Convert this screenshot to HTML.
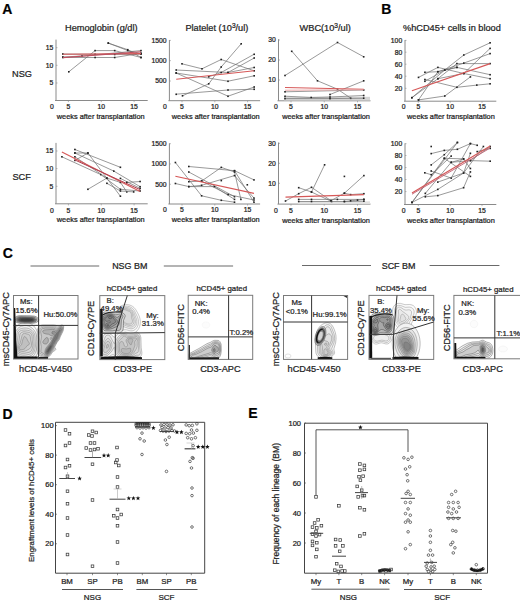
<!DOCTYPE html>
<html><head><meta charset="utf-8"><style>
html,body{margin:0;padding:0;background:#fff;}
svg{display:block;font-family:"Liberation Sans",sans-serif;}
text{stroke:#1e1e1e;stroke-width:0.24px;}
</style></head><body>
<svg width="520" height="602" viewBox="0 0 520 602">
<rect width="520" height="602" fill="#fff"/>
<text x="2.30" y="13.50" font-size="14.0" text-anchor="start" fill="#000" font-weight="bold" >A</text>
<text x="381.20" y="13.80" font-size="14.0" text-anchor="start" fill="#000" font-weight="bold" >B</text>
<text x="2.65" y="258.20" font-size="14.0" text-anchor="start" fill="#000" font-weight="bold" >C</text>
<text x="2.40" y="418.50" font-size="14.0" text-anchor="start" fill="#000" font-weight="bold" >D</text>
<text x="248.20" y="418.35" font-size="14.0" text-anchor="start" fill="#000" font-weight="bold" >E</text>
<text x="65.00" y="31.40" font-size="9.2" text-anchor="start" fill="#1e1e1e" font-weight="normal" >Hemoglobin (g/dl)</text>
<text x="185.40" y="31.40" font-size="9.2" text-anchor="start" fill="#1e1e1e" font-weight="normal" >Platelet (10<tspan font-size="6.6" dy="-3.4">3</tspan><tspan dy="3.4">/ul)</tspan></text>
<text x="299.60" y="31.40" font-size="9.2" text-anchor="start" fill="#1e1e1e" font-weight="normal" >WBC(10<tspan font-size="6.6" dy="-3.4">3</tspan><tspan dy="3.4">/ul)</tspan></text>
<text x="403.00" y="31.40" font-size="9.2" text-anchor="start" fill="#1e1e1e" font-weight="normal" >%hCD45+ cells in blood</text>
<text x="22.00" y="77.11" font-size="9.2" text-anchor="middle" fill="#1e1e1e" font-weight="normal" >NSG</text>
<text x="21.60" y="179.91" font-size="9.2" text-anchor="middle" fill="#1e1e1e" font-weight="normal" >SCF</text>
<line x1="56.00" y1="39.60" x2="56.00" y2="100.50" stroke="#8a8a8a" stroke-width="1"/>
<line x1="55.00" y1="100.50" x2="147.70" y2="100.50" stroke="#8a8a8a" stroke-width="1"/>
<text x="53.20" y="50.15" font-size="6.8" text-anchor="end" fill="#1e1e1e" font-weight="normal" >15</text>
<line x1="56.00" y1="47.70" x2="57.50" y2="47.70" stroke="#8a8a8a" stroke-width="0.6"/>
<text x="53.20" y="67.75" font-size="6.8" text-anchor="end" fill="#1e1e1e" font-weight="normal" >10</text>
<line x1="56.00" y1="65.30" x2="57.50" y2="65.30" stroke="#8a8a8a" stroke-width="0.6"/>
<text x="53.20" y="85.45" font-size="6.8" text-anchor="end" fill="#1e1e1e" font-weight="normal" >5</text>
<line x1="56.00" y1="83.00" x2="57.50" y2="83.00" stroke="#8a8a8a" stroke-width="0.6"/>
<text x="68.40" y="109.25" font-size="6.8" text-anchor="middle" fill="#1e1e1e" font-weight="normal" >5</text>
<line x1="68.40" y1="100.50" x2="68.40" y2="102.10" stroke="#8a8a8a" stroke-width="0.6"/>
<text x="101.25" y="109.25" font-size="6.8" text-anchor="middle" fill="#1e1e1e" font-weight="normal" >10</text>
<line x1="101.25" y1="100.50" x2="101.25" y2="102.10" stroke="#8a8a8a" stroke-width="0.6"/>
<text x="134.10" y="109.25" font-size="6.8" text-anchor="middle" fill="#1e1e1e" font-weight="normal" >15</text>
<line x1="134.10" y1="100.50" x2="134.10" y2="102.10" stroke="#8a8a8a" stroke-width="0.6"/>
<text x="52.00" y="109.25" font-size="6.8" text-anchor="middle" fill="#1e1e1e" font-weight="normal" >0</text>
<text x="56.80" y="118.91" font-size="7.35" text-anchor="start" fill="#1e1e1e" font-weight="normal" >weeks after transplantation</text>
<line x1="169.40" y1="40.00" x2="169.40" y2="100.70" stroke="#8a8a8a" stroke-width="1"/>
<line x1="168.40" y1="100.70" x2="260.10" y2="100.70" stroke="#8a8a8a" stroke-width="1"/>
<text x="166.60" y="42.85" font-size="6.8" text-anchor="end" fill="#1e1e1e" font-weight="normal" >1500</text>
<line x1="169.40" y1="40.40" x2="170.90" y2="40.40" stroke="#8a8a8a" stroke-width="0.6"/>
<text x="166.60" y="63.10" font-size="6.8" text-anchor="end" fill="#1e1e1e" font-weight="normal" >1000</text>
<line x1="169.40" y1="60.65" x2="170.90" y2="60.65" stroke="#8a8a8a" stroke-width="0.6"/>
<text x="166.60" y="83.45" font-size="6.8" text-anchor="end" fill="#1e1e1e" font-weight="normal" >500</text>
<line x1="169.40" y1="81.00" x2="170.90" y2="81.00" stroke="#8a8a8a" stroke-width="0.6"/>
<text x="182.00" y="109.05" font-size="6.8" text-anchor="middle" fill="#1e1e1e" font-weight="normal" >5</text>
<line x1="182.00" y1="100.70" x2="182.00" y2="102.30" stroke="#8a8a8a" stroke-width="0.6"/>
<text x="214.80" y="109.05" font-size="6.8" text-anchor="middle" fill="#1e1e1e" font-weight="normal" >10</text>
<line x1="214.80" y1="100.70" x2="214.80" y2="102.30" stroke="#8a8a8a" stroke-width="0.6"/>
<text x="247.60" y="109.05" font-size="6.8" text-anchor="middle" fill="#1e1e1e" font-weight="normal" >15</text>
<line x1="247.60" y1="100.70" x2="247.60" y2="102.30" stroke="#8a8a8a" stroke-width="0.6"/>
<text x="165.00" y="109.05" font-size="6.8" text-anchor="middle" fill="#1e1e1e" font-weight="normal" >0</text>
<text x="171.80" y="119.00" font-size="7.35" text-anchor="start" fill="#1e1e1e" font-weight="normal" >weeks after transplantation</text>
<line x1="278.50" y1="39.20" x2="278.50" y2="100.80" stroke="#8a8a8a" stroke-width="1"/>
<line x1="277.50" y1="100.80" x2="370.50" y2="100.80" stroke="#8a8a8a" stroke-width="1"/>
<text x="275.70" y="42.45" font-size="6.8" text-anchor="end" fill="#1e1e1e" font-weight="normal" >30</text>
<line x1="278.50" y1="40.00" x2="280.00" y2="40.00" stroke="#8a8a8a" stroke-width="0.6"/>
<text x="275.70" y="62.45" font-size="6.8" text-anchor="end" fill="#1e1e1e" font-weight="normal" >20</text>
<line x1="278.50" y1="60.00" x2="280.00" y2="60.00" stroke="#8a8a8a" stroke-width="0.6"/>
<text x="275.70" y="82.45" font-size="6.8" text-anchor="end" fill="#1e1e1e" font-weight="normal" >10</text>
<line x1="278.50" y1="80.00" x2="280.00" y2="80.00" stroke="#8a8a8a" stroke-width="0.6"/>
<text x="291.00" y="109.35" font-size="6.8" text-anchor="middle" fill="#1e1e1e" font-weight="normal" >5</text>
<line x1="291.00" y1="100.80" x2="291.00" y2="102.40" stroke="#8a8a8a" stroke-width="0.6"/>
<text x="324.25" y="109.35" font-size="6.8" text-anchor="middle" fill="#1e1e1e" font-weight="normal" >10</text>
<line x1="324.25" y1="100.80" x2="324.25" y2="102.40" stroke="#8a8a8a" stroke-width="0.6"/>
<text x="357.50" y="109.35" font-size="6.8" text-anchor="middle" fill="#1e1e1e" font-weight="normal" >15</text>
<line x1="357.50" y1="100.80" x2="357.50" y2="102.40" stroke="#8a8a8a" stroke-width="0.6"/>
<text x="275.80" y="109.35" font-size="6.8" text-anchor="middle" fill="#1e1e1e" font-weight="normal" >0</text>
<text x="282.20" y="119.20" font-size="7.35" text-anchor="start" fill="#1e1e1e" font-weight="normal" >weeks after transplantation</text>
<line x1="405.00" y1="40.00" x2="405.00" y2="101.20" stroke="#8a8a8a" stroke-width="1"/>
<line x1="404.00" y1="101.20" x2="496.30" y2="101.20" stroke="#8a8a8a" stroke-width="1"/>
<text x="402.20" y="42.85" font-size="6.8" text-anchor="end" fill="#1e1e1e" font-weight="normal" >100</text>
<line x1="405.00" y1="40.40" x2="406.50" y2="40.40" stroke="#8a8a8a" stroke-width="0.6"/>
<text x="402.20" y="54.65" font-size="6.8" text-anchor="end" fill="#1e1e1e" font-weight="normal" >80</text>
<line x1="405.00" y1="52.20" x2="406.50" y2="52.20" stroke="#8a8a8a" stroke-width="0.6"/>
<text x="402.20" y="66.65" font-size="6.8" text-anchor="end" fill="#1e1e1e" font-weight="normal" >60</text>
<line x1="405.00" y1="64.20" x2="406.50" y2="64.20" stroke="#8a8a8a" stroke-width="0.6"/>
<text x="402.20" y="78.65" font-size="6.8" text-anchor="end" fill="#1e1e1e" font-weight="normal" >40</text>
<line x1="405.00" y1="76.20" x2="406.50" y2="76.20" stroke="#8a8a8a" stroke-width="0.6"/>
<text x="402.20" y="90.75" font-size="6.8" text-anchor="end" fill="#1e1e1e" font-weight="normal" >20</text>
<line x1="405.00" y1="88.30" x2="406.50" y2="88.30" stroke="#8a8a8a" stroke-width="0.6"/>
<text x="418.30" y="109.25" font-size="6.8" text-anchor="middle" fill="#1e1e1e" font-weight="normal" >5</text>
<line x1="418.30" y1="101.20" x2="418.30" y2="102.80" stroke="#8a8a8a" stroke-width="0.6"/>
<text x="450.15" y="109.25" font-size="6.8" text-anchor="middle" fill="#1e1e1e" font-weight="normal" >10</text>
<line x1="450.15" y1="101.20" x2="450.15" y2="102.80" stroke="#8a8a8a" stroke-width="0.6"/>
<text x="482.00" y="109.25" font-size="6.8" text-anchor="middle" fill="#1e1e1e" font-weight="normal" >15</text>
<line x1="482.00" y1="101.20" x2="482.00" y2="102.80" stroke="#8a8a8a" stroke-width="0.6"/>
<text x="403.60" y="109.25" font-size="6.8" text-anchor="middle" fill="#1e1e1e" font-weight="normal" >0</text>
<text x="407.00" y="119.20" font-size="7.35" text-anchor="start" fill="#1e1e1e" font-weight="normal" >weeks after transplantation</text>
<line x1="56.00" y1="142.90" x2="56.00" y2="203.80" stroke="#8a8a8a" stroke-width="1"/>
<line x1="55.00" y1="203.80" x2="147.70" y2="203.80" stroke="#8a8a8a" stroke-width="1"/>
<text x="53.20" y="153.45" font-size="6.8" text-anchor="end" fill="#1e1e1e" font-weight="normal" >15</text>
<line x1="56.00" y1="151.00" x2="57.50" y2="151.00" stroke="#8a8a8a" stroke-width="0.6"/>
<text x="53.20" y="171.05" font-size="6.8" text-anchor="end" fill="#1e1e1e" font-weight="normal" >10</text>
<line x1="56.00" y1="168.60" x2="57.50" y2="168.60" stroke="#8a8a8a" stroke-width="0.6"/>
<text x="53.20" y="188.75" font-size="6.8" text-anchor="end" fill="#1e1e1e" font-weight="normal" >5</text>
<line x1="56.00" y1="186.30" x2="57.50" y2="186.30" stroke="#8a8a8a" stroke-width="0.6"/>
<text x="68.40" y="212.55" font-size="6.8" text-anchor="middle" fill="#1e1e1e" font-weight="normal" >5</text>
<line x1="68.40" y1="203.80" x2="68.40" y2="205.40" stroke="#8a8a8a" stroke-width="0.6"/>
<text x="101.25" y="212.55" font-size="6.8" text-anchor="middle" fill="#1e1e1e" font-weight="normal" >10</text>
<line x1="101.25" y1="203.80" x2="101.25" y2="205.40" stroke="#8a8a8a" stroke-width="0.6"/>
<text x="134.10" y="212.55" font-size="6.8" text-anchor="middle" fill="#1e1e1e" font-weight="normal" >15</text>
<line x1="134.10" y1="203.80" x2="134.10" y2="205.40" stroke="#8a8a8a" stroke-width="0.6"/>
<text x="52.00" y="212.55" font-size="6.8" text-anchor="middle" fill="#1e1e1e" font-weight="normal" >0</text>
<text x="56.80" y="222.21" font-size="7.35" text-anchor="start" fill="#1e1e1e" font-weight="normal" >weeks after transplantation</text>
<line x1="169.40" y1="143.30" x2="169.40" y2="204.00" stroke="#8a8a8a" stroke-width="1"/>
<line x1="168.40" y1="204.00" x2="260.10" y2="204.00" stroke="#8a8a8a" stroke-width="1"/>
<text x="166.60" y="146.15" font-size="6.8" text-anchor="end" fill="#1e1e1e" font-weight="normal" >1500</text>
<line x1="169.40" y1="143.70" x2="170.90" y2="143.70" stroke="#8a8a8a" stroke-width="0.6"/>
<text x="166.60" y="166.40" font-size="6.8" text-anchor="end" fill="#1e1e1e" font-weight="normal" >1000</text>
<line x1="169.40" y1="163.95" x2="170.90" y2="163.95" stroke="#8a8a8a" stroke-width="0.6"/>
<text x="166.60" y="186.75" font-size="6.8" text-anchor="end" fill="#1e1e1e" font-weight="normal" >500</text>
<line x1="169.40" y1="184.30" x2="170.90" y2="184.30" stroke="#8a8a8a" stroke-width="0.6"/>
<text x="182.00" y="212.35" font-size="6.8" text-anchor="middle" fill="#1e1e1e" font-weight="normal" >5</text>
<line x1="182.00" y1="204.00" x2="182.00" y2="205.60" stroke="#8a8a8a" stroke-width="0.6"/>
<text x="214.80" y="212.35" font-size="6.8" text-anchor="middle" fill="#1e1e1e" font-weight="normal" >10</text>
<line x1="214.80" y1="204.00" x2="214.80" y2="205.60" stroke="#8a8a8a" stroke-width="0.6"/>
<text x="247.60" y="212.35" font-size="6.8" text-anchor="middle" fill="#1e1e1e" font-weight="normal" >15</text>
<line x1="247.60" y1="204.00" x2="247.60" y2="205.60" stroke="#8a8a8a" stroke-width="0.6"/>
<text x="165.00" y="212.35" font-size="6.8" text-anchor="middle" fill="#1e1e1e" font-weight="normal" >0</text>
<text x="171.80" y="222.31" font-size="7.35" text-anchor="start" fill="#1e1e1e" font-weight="normal" >weeks after transplantation</text>
<line x1="278.50" y1="142.50" x2="278.50" y2="204.10" stroke="#8a8a8a" stroke-width="1"/>
<line x1="277.50" y1="204.10" x2="370.50" y2="204.10" stroke="#8a8a8a" stroke-width="1"/>
<text x="275.70" y="145.75" font-size="6.8" text-anchor="end" fill="#1e1e1e" font-weight="normal" >30</text>
<line x1="278.50" y1="143.30" x2="280.00" y2="143.30" stroke="#8a8a8a" stroke-width="0.6"/>
<text x="275.70" y="165.75" font-size="6.8" text-anchor="end" fill="#1e1e1e" font-weight="normal" >20</text>
<line x1="278.50" y1="163.30" x2="280.00" y2="163.30" stroke="#8a8a8a" stroke-width="0.6"/>
<text x="275.70" y="185.75" font-size="6.8" text-anchor="end" fill="#1e1e1e" font-weight="normal" >10</text>
<line x1="278.50" y1="183.30" x2="280.00" y2="183.30" stroke="#8a8a8a" stroke-width="0.6"/>
<text x="291.00" y="212.65" font-size="6.8" text-anchor="middle" fill="#1e1e1e" font-weight="normal" >5</text>
<line x1="291.00" y1="204.10" x2="291.00" y2="205.70" stroke="#8a8a8a" stroke-width="0.6"/>
<text x="324.25" y="212.65" font-size="6.8" text-anchor="middle" fill="#1e1e1e" font-weight="normal" >10</text>
<line x1="324.25" y1="204.10" x2="324.25" y2="205.70" stroke="#8a8a8a" stroke-width="0.6"/>
<text x="357.50" y="212.65" font-size="6.8" text-anchor="middle" fill="#1e1e1e" font-weight="normal" >15</text>
<line x1="357.50" y1="204.10" x2="357.50" y2="205.70" stroke="#8a8a8a" stroke-width="0.6"/>
<text x="275.80" y="212.65" font-size="6.8" text-anchor="middle" fill="#1e1e1e" font-weight="normal" >0</text>
<text x="282.20" y="222.51" font-size="7.35" text-anchor="start" fill="#1e1e1e" font-weight="normal" >weeks after transplantation</text>
<line x1="405.00" y1="143.30" x2="405.00" y2="204.50" stroke="#8a8a8a" stroke-width="1"/>
<line x1="404.00" y1="204.50" x2="496.30" y2="204.50" stroke="#8a8a8a" stroke-width="1"/>
<text x="402.20" y="146.15" font-size="6.8" text-anchor="end" fill="#1e1e1e" font-weight="normal" >100</text>
<line x1="405.00" y1="143.70" x2="406.50" y2="143.70" stroke="#8a8a8a" stroke-width="0.6"/>
<text x="402.20" y="157.95" font-size="6.8" text-anchor="end" fill="#1e1e1e" font-weight="normal" >80</text>
<line x1="405.00" y1="155.50" x2="406.50" y2="155.50" stroke="#8a8a8a" stroke-width="0.6"/>
<text x="402.20" y="169.95" font-size="6.8" text-anchor="end" fill="#1e1e1e" font-weight="normal" >60</text>
<line x1="405.00" y1="167.50" x2="406.50" y2="167.50" stroke="#8a8a8a" stroke-width="0.6"/>
<text x="402.20" y="181.95" font-size="6.8" text-anchor="end" fill="#1e1e1e" font-weight="normal" >40</text>
<line x1="405.00" y1="179.50" x2="406.50" y2="179.50" stroke="#8a8a8a" stroke-width="0.6"/>
<text x="402.20" y="194.05" font-size="6.8" text-anchor="end" fill="#1e1e1e" font-weight="normal" >20</text>
<line x1="405.00" y1="191.60" x2="406.50" y2="191.60" stroke="#8a8a8a" stroke-width="0.6"/>
<text x="418.30" y="212.55" font-size="6.8" text-anchor="middle" fill="#1e1e1e" font-weight="normal" >5</text>
<line x1="418.30" y1="204.50" x2="418.30" y2="206.10" stroke="#8a8a8a" stroke-width="0.6"/>
<text x="450.15" y="212.55" font-size="6.8" text-anchor="middle" fill="#1e1e1e" font-weight="normal" >10</text>
<line x1="450.15" y1="204.50" x2="450.15" y2="206.10" stroke="#8a8a8a" stroke-width="0.6"/>
<text x="482.00" y="212.55" font-size="6.8" text-anchor="middle" fill="#1e1e1e" font-weight="normal" >15</text>
<line x1="482.00" y1="204.50" x2="482.00" y2="206.10" stroke="#8a8a8a" stroke-width="0.6"/>
<text x="403.60" y="212.55" font-size="6.8" text-anchor="middle" fill="#1e1e1e" font-weight="normal" >0</text>
<text x="407.00" y="222.51" font-size="7.35" text-anchor="start" fill="#1e1e1e" font-weight="normal" >weeks after transplantation</text>
<polyline points="62.8,54.0 95.1,54.3 114.7,54.5 141.0,54.2" fill="none" stroke="#6e6e6e" stroke-width="0.7"/>
<rect x="62.0" y="53.2" width="1.6" height="1.6" fill="#222"/>
<rect x="94.3" y="53.5" width="1.6" height="1.6" fill="#222"/>
<rect x="113.9" y="53.7" width="1.6" height="1.6" fill="#222"/>
<rect x="140.2" y="53.4" width="1.6" height="1.6" fill="#222"/>
<polyline points="62.8,57.5 95.1,57.5 114.7,57.5 141.0,53.2" fill="none" stroke="#6e6e6e" stroke-width="0.7"/>
<rect x="62.0" y="56.7" width="1.6" height="1.6" fill="#222"/>
<rect x="94.3" y="56.7" width="1.6" height="1.6" fill="#222"/>
<rect x="113.9" y="56.7" width="1.6" height="1.6" fill="#222"/>
<rect x="140.2" y="52.4" width="1.6" height="1.6" fill="#222"/>
<polyline points="68.8,71.8 95.1,50.6 114.7,50.6 141.0,57.5" fill="none" stroke="#6e6e6e" stroke-width="0.7"/>
<rect x="68.0" y="71.0" width="1.6" height="1.6" fill="#222"/>
<rect x="94.3" y="49.8" width="1.6" height="1.6" fill="#222"/>
<rect x="113.9" y="49.8" width="1.6" height="1.6" fill="#222"/>
<rect x="140.2" y="56.7" width="1.6" height="1.6" fill="#222"/>
<polyline points="108.3,43.1 127.7,49.7 141.0,57.5" fill="none" stroke="#6e6e6e" stroke-width="0.7"/>
<rect x="107.5" y="42.3" width="1.6" height="1.6" fill="#222"/>
<rect x="126.9" y="48.9" width="1.6" height="1.6" fill="#222"/>
<rect x="140.2" y="56.7" width="1.6" height="1.6" fill="#222"/>
<polyline points="108.3,43.1 127.7,50.5 141.0,53.5" fill="none" stroke="#6e6e6e" stroke-width="0.7"/>
<rect x="107.5" y="42.3" width="1.6" height="1.6" fill="#222"/>
<rect x="126.9" y="49.7" width="1.6" height="1.6" fill="#222"/>
<rect x="140.2" y="52.7" width="1.6" height="1.6" fill="#222"/>
<polyline points="62.8,57.0 82.0,56.0 141.0,50.6" fill="none" stroke="#6e6e6e" stroke-width="0.7"/>
<rect x="62.0" y="56.2" width="1.6" height="1.6" fill="#222"/>
<rect x="81.2" y="55.2" width="1.6" height="1.6" fill="#222"/>
<rect x="140.2" y="49.8" width="1.6" height="1.6" fill="#222"/>
<polyline points="62.8,54.2 141.0,53.6" fill="none" stroke="#d65858" stroke-width="1.1"/>
<polyline points="62.8,57.6 141.0,51.8" fill="none" stroke="#c05060" stroke-width="1.1"/>
<polyline points="182.0,63.8 202.0,68.8 221.2,59.5 254.2,70.8" fill="none" stroke="#6e6e6e" stroke-width="0.7"/>
<rect x="181.2" y="63.0" width="1.6" height="1.6" fill="#222"/>
<rect x="201.2" y="68.0" width="1.6" height="1.6" fill="#222"/>
<rect x="220.4" y="58.7" width="1.6" height="1.6" fill="#222"/>
<rect x="253.4" y="70.0" width="1.6" height="1.6" fill="#222"/>
<polyline points="176.2,70.0 228.0,72.5 254.2,67.5" fill="none" stroke="#6e6e6e" stroke-width="0.7"/>
<rect x="175.4" y="69.2" width="1.6" height="1.6" fill="#222"/>
<rect x="227.2" y="71.7" width="1.6" height="1.6" fill="#222"/>
<rect x="253.4" y="66.7" width="1.6" height="1.6" fill="#222"/>
<polyline points="176.2,73.0 228.0,81.2 254.2,75.8" fill="none" stroke="#6e6e6e" stroke-width="0.7"/>
<rect x="175.4" y="72.2" width="1.6" height="1.6" fill="#222"/>
<rect x="227.2" y="80.5" width="1.6" height="1.6" fill="#222"/>
<rect x="253.4" y="75.0" width="1.6" height="1.6" fill="#222"/>
<polyline points="176.2,73.0 228.0,96.2 254.2,87.0" fill="none" stroke="#6e6e6e" stroke-width="0.7"/>
<rect x="175.4" y="72.2" width="1.6" height="1.6" fill="#222"/>
<rect x="227.2" y="95.5" width="1.6" height="1.6" fill="#222"/>
<rect x="253.4" y="86.2" width="1.6" height="1.6" fill="#222"/>
<polyline points="176.2,94.2 228.0,90.0 254.2,89.2" fill="none" stroke="#6e6e6e" stroke-width="0.7"/>
<rect x="175.4" y="93.5" width="1.6" height="1.6" fill="#222"/>
<rect x="227.2" y="89.2" width="1.6" height="1.6" fill="#222"/>
<rect x="253.4" y="88.5" width="1.6" height="1.6" fill="#222"/>
<polyline points="182.5,95.8 208.8,83.8 221.2,67.0 241.2,43.8" fill="none" stroke="#6e6e6e" stroke-width="0.7"/>
<rect x="181.7" y="95.0" width="1.6" height="1.6" fill="#222"/>
<rect x="207.9" y="83.0" width="1.6" height="1.6" fill="#222"/>
<rect x="220.4" y="66.2" width="1.6" height="1.6" fill="#222"/>
<rect x="240.4" y="43.0" width="1.6" height="1.6" fill="#222"/>
<polyline points="208.8,76.8 221.2,72.5 254.2,54.2" fill="none" stroke="#6e6e6e" stroke-width="0.7"/>
<rect x="207.9" y="76.0" width="1.6" height="1.6" fill="#222"/>
<rect x="220.4" y="71.7" width="1.6" height="1.6" fill="#222"/>
<rect x="253.4" y="53.5" width="1.6" height="1.6" fill="#222"/>
<polyline points="228.0,72.5 254.2,58.0" fill="none" stroke="#6e6e6e" stroke-width="0.7"/>
<rect x="227.2" y="71.7" width="1.6" height="1.6" fill="#222"/>
<rect x="253.4" y="57.2" width="1.6" height="1.6" fill="#222"/>
<polyline points="176.2,79.2 254.2,70.8" fill="none" stroke="#d65858" stroke-width="1.15"/>
<rect x="284" y="96.8" width="86" height="3.6" fill="#d6d6d6"/>
<polyline points="285.0,75.5 337.5,42.5 363.8,56.8" fill="none" stroke="#6e6e6e" stroke-width="0.7"/>
<rect x="284.2" y="74.7" width="1.6" height="1.6" fill="#222"/>
<rect x="336.7" y="41.7" width="1.6" height="1.6" fill="#222"/>
<rect x="362.9" y="56.0" width="1.6" height="1.6" fill="#222"/>
<polyline points="291.8,51.2 317.5,80.8 337.5,89.2 350.8,98.2" fill="none" stroke="#6e6e6e" stroke-width="0.7"/>
<rect x="290.9" y="50.5" width="1.6" height="1.6" fill="#222"/>
<rect x="316.7" y="80.0" width="1.6" height="1.6" fill="#222"/>
<rect x="336.7" y="88.5" width="1.6" height="1.6" fill="#222"/>
<rect x="349.9" y="97.5" width="1.6" height="1.6" fill="#222"/>
<polyline points="285.0,91.8 363.8,90.0" fill="none" stroke="#6e6e6e" stroke-width="0.7"/>
<rect x="284.2" y="91.0" width="1.6" height="1.6" fill="#222"/>
<rect x="362.9" y="89.2" width="1.6" height="1.6" fill="#222"/>
<polyline points="285.0,96.2 311.2,97.5 330.0,97.0 363.8,95.5" fill="none" stroke="#6e6e6e" stroke-width="0.7"/>
<rect x="284.2" y="95.5" width="1.6" height="1.6" fill="#222"/>
<rect x="310.4" y="96.7" width="1.6" height="1.6" fill="#222"/>
<rect x="329.2" y="96.2" width="1.6" height="1.6" fill="#222"/>
<rect x="362.9" y="94.7" width="1.6" height="1.6" fill="#222"/>
<polyline points="330.0,94.5 363.8,80.8" fill="none" stroke="#6e6e6e" stroke-width="0.7"/>
<rect x="329.2" y="93.7" width="1.6" height="1.6" fill="#222"/>
<rect x="362.9" y="80.0" width="1.6" height="1.6" fill="#222"/>
<polyline points="285.0,98.6 330.0,98.6 363.8,98.2" fill="none" stroke="#6e6e6e" stroke-width="0.7"/>
<rect x="284.2" y="97.8" width="1.6" height="1.6" fill="#222"/>
<rect x="329.2" y="97.8" width="1.6" height="1.6" fill="#222"/>
<rect x="362.9" y="97.4" width="1.6" height="1.6" fill="#222"/>
<polyline points="285.0,87.5 363.8,89.2" fill="none" stroke="#d65858" stroke-width="1.15"/>
<polyline points="285.0,90.2 363.8,89.8" fill="none" stroke="#e8a0a0" stroke-width="0.9"/>
<polyline points="411.9,97.7 444.8,70.0 463.8,55.0 490.1,42.8" fill="none" stroke="#6e6e6e" stroke-width="0.7"/>
<rect x="411.1" y="96.9" width="1.6" height="1.6" fill="#222"/>
<rect x="444.0" y="69.2" width="1.6" height="1.6" fill="#222"/>
<rect x="463.0" y="54.2" width="1.6" height="1.6" fill="#222"/>
<rect x="489.3" y="42.0" width="1.6" height="1.6" fill="#222"/>
<polyline points="411.9,97.7 437.9,78.7 456.9,63.6 490.1,63.6" fill="none" stroke="#6e6e6e" stroke-width="0.7"/>
<rect x="411.1" y="96.9" width="1.6" height="1.6" fill="#222"/>
<rect x="437.1" y="77.9" width="1.6" height="1.6" fill="#222"/>
<rect x="456.1" y="62.8" width="1.6" height="1.6" fill="#222"/>
<rect x="489.3" y="62.8" width="1.6" height="1.6" fill="#222"/>
<polyline points="418.5,99.9 444.8,96.0 470.4,76.9" fill="none" stroke="#6e6e6e" stroke-width="0.7"/>
<rect x="417.7" y="99.1" width="1.6" height="1.6" fill="#222"/>
<rect x="444.0" y="95.2" width="1.6" height="1.6" fill="#222"/>
<rect x="469.6" y="76.1" width="1.6" height="1.6" fill="#222"/>
<polyline points="418.5,99.9 437.9,71.7 456.9,67.4 490.1,74.7" fill="none" stroke="#6e6e6e" stroke-width="0.7"/>
<rect x="417.7" y="99.1" width="1.6" height="1.6" fill="#222"/>
<rect x="437.1" y="70.9" width="1.6" height="1.6" fill="#222"/>
<rect x="456.1" y="66.6" width="1.6" height="1.6" fill="#222"/>
<rect x="489.3" y="73.9" width="1.6" height="1.6" fill="#222"/>
<polyline points="418.5,77.4 437.9,67.4 463.8,73.5 490.1,78.7" fill="none" stroke="#6e6e6e" stroke-width="0.7"/>
<rect x="417.7" y="76.6" width="1.6" height="1.6" fill="#222"/>
<rect x="437.1" y="66.6" width="1.6" height="1.6" fill="#222"/>
<rect x="463.0" y="72.7" width="1.6" height="1.6" fill="#222"/>
<rect x="489.3" y="77.9" width="1.6" height="1.6" fill="#222"/>
<polyline points="424.9,72.3 437.9,71.7 463.8,63.1 490.1,53.6" fill="none" stroke="#6e6e6e" stroke-width="0.7"/>
<rect x="424.1" y="71.5" width="1.6" height="1.6" fill="#222"/>
<rect x="437.1" y="70.9" width="1.6" height="1.6" fill="#222"/>
<rect x="463.0" y="62.3" width="1.6" height="1.6" fill="#222"/>
<rect x="489.3" y="52.8" width="1.6" height="1.6" fill="#222"/>
<polyline points="424.9,79.5 456.9,87.3 476.8,85.1 490.1,83.8" fill="none" stroke="#6e6e6e" stroke-width="0.7"/>
<rect x="424.1" y="78.7" width="1.6" height="1.6" fill="#222"/>
<rect x="456.1" y="86.5" width="1.6" height="1.6" fill="#222"/>
<rect x="476.0" y="84.3" width="1.6" height="1.6" fill="#222"/>
<rect x="489.3" y="83.0" width="1.6" height="1.6" fill="#222"/>
<polyline points="424.9,81.3 444.8,70.0 456.9,67.4" fill="none" stroke="#6e6e6e" stroke-width="0.7"/>
<rect x="424.1" y="80.5" width="1.6" height="1.6" fill="#222"/>
<rect x="444.0" y="69.2" width="1.6" height="1.6" fill="#222"/>
<rect x="456.1" y="66.6" width="1.6" height="1.6" fill="#222"/>
<polyline points="437.9,78.7 463.8,73.5 490.1,48.4" fill="none" stroke="#6e6e6e" stroke-width="0.7"/>
<rect x="437.1" y="77.9" width="1.6" height="1.6" fill="#222"/>
<rect x="463.0" y="72.7" width="1.6" height="1.6" fill="#222"/>
<rect x="489.3" y="47.6" width="1.6" height="1.6" fill="#222"/>
<polyline points="411.9,90.8 490.1,63.6" fill="none" stroke="#d65858" stroke-width="1.2"/>
<polyline points="74.9,149.5 120.4,167.3" fill="none" stroke="#6e6e6e" stroke-width="0.7"/>
<rect x="74.1" y="148.7" width="1.6" height="1.6" fill="#222"/>
<rect x="119.6" y="166.5" width="1.6" height="1.6" fill="#222"/>
<polyline points="74.9,153.0 87.9,153.0 120.4,196.2" fill="none" stroke="#6e6e6e" stroke-width="0.7"/>
<rect x="74.1" y="152.2" width="1.6" height="1.6" fill="#222"/>
<rect x="87.1" y="152.2" width="1.6" height="1.6" fill="#222"/>
<rect x="119.6" y="195.4" width="1.6" height="1.6" fill="#222"/>
<polyline points="74.9,153.0 113.8,171.1 140.1,186.7" fill="none" stroke="#6e6e6e" stroke-width="0.7"/>
<rect x="74.1" y="152.2" width="1.6" height="1.6" fill="#222"/>
<rect x="113.0" y="170.3" width="1.6" height="1.6" fill="#222"/>
<rect x="139.3" y="185.9" width="1.6" height="1.6" fill="#222"/>
<polyline points="61.9,156.8 100.8,174.6 120.4,189.3 140.1,191.0" fill="none" stroke="#6e6e6e" stroke-width="0.7"/>
<rect x="61.1" y="156.0" width="1.6" height="1.6" fill="#222"/>
<rect x="100.0" y="173.8" width="1.6" height="1.6" fill="#222"/>
<rect x="119.6" y="188.5" width="1.6" height="1.6" fill="#222"/>
<rect x="139.3" y="190.2" width="1.6" height="1.6" fill="#222"/>
<polyline points="74.9,160.4 87.9,153.0" fill="none" stroke="#6e6e6e" stroke-width="0.7"/>
<rect x="74.1" y="159.6" width="1.6" height="1.6" fill="#222"/>
<rect x="87.1" y="152.2" width="1.6" height="1.6" fill="#222"/>
<polyline points="87.9,189.3 106.9,178.1" fill="none" stroke="#6e6e6e" stroke-width="0.7"/>
<rect x="87.1" y="188.5" width="1.6" height="1.6" fill="#222"/>
<rect x="106.1" y="177.3" width="1.6" height="1.6" fill="#222"/>
<polyline points="74.9,156.8 106.9,178.1 120.4,182.4 126.8,191.9" fill="none" stroke="#6e6e6e" stroke-width="0.7"/>
<rect x="74.1" y="156.0" width="1.6" height="1.6" fill="#222"/>
<rect x="106.1" y="177.3" width="1.6" height="1.6" fill="#222"/>
<rect x="119.6" y="181.6" width="1.6" height="1.6" fill="#222"/>
<rect x="126.0" y="191.1" width="1.6" height="1.6" fill="#222"/>
<polyline points="106.9,183.3 120.4,191.0 133.7,191.9" fill="none" stroke="#6e6e6e" stroke-width="0.7"/>
<rect x="106.1" y="182.5" width="1.6" height="1.6" fill="#222"/>
<rect x="119.6" y="190.2" width="1.6" height="1.6" fill="#222"/>
<rect x="132.9" y="191.1" width="1.6" height="1.6" fill="#222"/>
<polyline points="120.4,178.4 140.1,188.4" fill="none" stroke="#6e6e6e" stroke-width="0.7"/>
<rect x="119.6" y="177.6" width="1.6" height="1.6" fill="#222"/>
<rect x="139.3" y="187.6" width="1.6" height="1.6" fill="#222"/>
<polyline points="126.8,182.4 140.1,181.5" fill="none" stroke="#6e6e6e" stroke-width="0.7"/>
<rect x="126.0" y="181.6" width="1.6" height="1.6" fill="#222"/>
<rect x="139.3" y="180.7" width="1.6" height="1.6" fill="#222"/>
<polyline points="61.9,152.1 140.1,191.5" fill="none" stroke="#d65858" stroke-width="1.15"/>
<polyline points="74.7,159.9 140.3,189.7" fill="none" stroke="#b04050" stroke-width="1.0"/>
<polyline points="175.4,162.5 201.6,195.8 221.3,200.3 234.5,202.2" fill="none" stroke="#6e6e6e" stroke-width="0.7"/>
<rect x="174.6" y="161.7" width="1.6" height="1.6" fill="#222"/>
<rect x="200.8" y="195.0" width="1.6" height="1.6" fill="#222"/>
<rect x="220.5" y="199.5" width="1.6" height="1.6" fill="#222"/>
<rect x="233.7" y="201.4" width="1.6" height="1.6" fill="#222"/>
<polyline points="188.8,166.5 234.5,170.7 254.0,179.9" fill="none" stroke="#6e6e6e" stroke-width="0.7"/>
<rect x="188.0" y="165.7" width="1.6" height="1.6" fill="#222"/>
<rect x="233.7" y="169.9" width="1.6" height="1.6" fill="#222"/>
<rect x="253.2" y="179.1" width="1.6" height="1.6" fill="#222"/>
<polyline points="188.8,172.0 234.5,196.7" fill="none" stroke="#6e6e6e" stroke-width="0.7"/>
<rect x="188.0" y="171.2" width="1.6" height="1.6" fill="#222"/>
<rect x="233.7" y="195.9" width="1.6" height="1.6" fill="#222"/>
<polyline points="175.4,183.5 188.8,186.6 214.4,186.6 234.5,199.4" fill="none" stroke="#6e6e6e" stroke-width="0.7"/>
<rect x="174.6" y="182.7" width="1.6" height="1.6" fill="#222"/>
<rect x="188.0" y="185.8" width="1.6" height="1.6" fill="#222"/>
<rect x="213.6" y="185.8" width="1.6" height="1.6" fill="#222"/>
<rect x="233.7" y="198.6" width="1.6" height="1.6" fill="#222"/>
<polyline points="188.8,181.7 201.6,181.1 221.3,167.4 234.5,172.0 240.9,199.4" fill="none" stroke="#6e6e6e" stroke-width="0.7"/>
<rect x="188.0" y="180.9" width="1.6" height="1.6" fill="#222"/>
<rect x="200.8" y="180.3" width="1.6" height="1.6" fill="#222"/>
<rect x="220.5" y="166.6" width="1.6" height="1.6" fill="#222"/>
<rect x="233.7" y="171.2" width="1.6" height="1.6" fill="#222"/>
<rect x="240.1" y="198.6" width="1.6" height="1.6" fill="#222"/>
<polyline points="188.8,186.6 201.6,185.3 234.5,175.6 254.0,198.1" fill="none" stroke="#6e6e6e" stroke-width="0.7"/>
<rect x="188.0" y="185.8" width="1.6" height="1.6" fill="#222"/>
<rect x="200.8" y="184.5" width="1.6" height="1.6" fill="#222"/>
<rect x="233.7" y="174.8" width="1.6" height="1.6" fill="#222"/>
<rect x="253.2" y="197.3" width="1.6" height="1.6" fill="#222"/>
<polyline points="201.6,181.1 228.1,194.5 254.0,200.0" fill="none" stroke="#6e6e6e" stroke-width="0.7"/>
<rect x="200.8" y="180.3" width="1.6" height="1.6" fill="#222"/>
<rect x="227.3" y="193.7" width="1.6" height="1.6" fill="#222"/>
<rect x="253.2" y="199.2" width="1.6" height="1.6" fill="#222"/>
<polyline points="234.5,170.7 254.0,202.2" fill="none" stroke="#6e6e6e" stroke-width="0.7"/>
<rect x="233.7" y="169.9" width="1.6" height="1.6" fill="#222"/>
<rect x="253.2" y="201.4" width="1.6" height="1.6" fill="#222"/>
<rect x="220.5" y="179.8" width="1.6" height="1.6" fill="#222"/>
<rect x="246.5" y="184.0" width="1.6" height="1.6" fill="#222"/>
<polyline points="175.4,176.2 254.0,193.4" fill="none" stroke="#d65858" stroke-width="1.15"/>
<rect x="298" y="201.3" width="72" height="2.6" fill="#e2e2e2"/>
<polyline points="285.5,201.0 298.7,193.7 311.5,187.3 331.0,200.7" fill="none" stroke="#6e6e6e" stroke-width="0.7"/>
<rect x="284.7" y="200.2" width="1.6" height="1.6" fill="#222"/>
<rect x="297.9" y="192.9" width="1.6" height="1.6" fill="#222"/>
<rect x="310.7" y="186.5" width="1.6" height="1.6" fill="#222"/>
<rect x="330.2" y="199.9" width="1.6" height="1.6" fill="#222"/>
<polyline points="298.7,187.7 311.5,192.0 324.6,164.8" fill="none" stroke="#6e6e6e" stroke-width="0.7"/>
<rect x="297.9" y="186.9" width="1.6" height="1.6" fill="#222"/>
<rect x="310.7" y="191.2" width="1.6" height="1.6" fill="#222"/>
<rect x="323.8" y="164.0" width="1.6" height="1.6" fill="#222"/>
<polyline points="311.5,192.0 331.6,201.5" fill="none" stroke="#6e6e6e" stroke-width="0.7"/>
<rect x="310.7" y="191.2" width="1.6" height="1.6" fill="#222"/>
<rect x="330.8" y="200.7" width="1.6" height="1.6" fill="#222"/>
<polyline points="298.7,199.4 311.5,199.4 337.4,199.4 363.9,199.4" fill="none" stroke="#6e6e6e" stroke-width="0.7"/>
<rect x="297.9" y="198.6" width="1.6" height="1.6" fill="#222"/>
<rect x="310.7" y="198.6" width="1.6" height="1.6" fill="#222"/>
<rect x="336.6" y="198.6" width="1.6" height="1.6" fill="#222"/>
<rect x="363.1" y="198.6" width="1.6" height="1.6" fill="#222"/>
<polyline points="298.7,201.5 311.5,201.5 344.4,201.5 363.9,201.2" fill="none" stroke="#6e6e6e" stroke-width="0.7"/>
<rect x="297.9" y="200.7" width="1.6" height="1.6" fill="#222"/>
<rect x="310.7" y="200.7" width="1.6" height="1.6" fill="#222"/>
<rect x="343.6" y="200.7" width="1.6" height="1.6" fill="#222"/>
<rect x="363.1" y="200.4" width="1.6" height="1.6" fill="#222"/>
<polyline points="331.0,200.7 344.4,193.2 363.9,175.6" fill="none" stroke="#6e6e6e" stroke-width="0.7"/>
<rect x="330.2" y="199.9" width="1.6" height="1.6" fill="#222"/>
<rect x="343.6" y="192.4" width="1.6" height="1.6" fill="#222"/>
<rect x="363.1" y="174.8" width="1.6" height="1.6" fill="#222"/>
<polyline points="344.4,193.2 350.6,194.6 363.9,193.7" fill="none" stroke="#6e6e6e" stroke-width="0.7"/>
<rect x="343.6" y="192.4" width="1.6" height="1.6" fill="#222"/>
<rect x="349.8" y="193.8" width="1.6" height="1.6" fill="#222"/>
<rect x="363.1" y="192.9" width="1.6" height="1.6" fill="#222"/>
<polyline points="344.4,201.5 350.6,200.8 357.5,200.1 363.9,199.4" fill="none" stroke="#6e6e6e" stroke-width="0.7"/>
<rect x="343.6" y="200.7" width="1.6" height="1.6" fill="#222"/>
<rect x="349.8" y="200.0" width="1.6" height="1.6" fill="#222"/>
<rect x="356.7" y="199.3" width="1.6" height="1.6" fill="#222"/>
<rect x="363.1" y="198.6" width="1.6" height="1.6" fill="#222"/>
<rect x="343.6" y="175.6" width="1.6" height="1.6" fill="#222"/>
<polyline points="285.5,197.2 363.9,194.6" fill="none" stroke="#d65858" stroke-width="1.2"/>
<polyline points="412.0,202.4 457.4,142.5" fill="none" stroke="#6e6e6e" stroke-width="0.7"/>
<rect x="411.2" y="201.6" width="1.6" height="1.6" fill="#222"/>
<rect x="456.6" y="141.7" width="1.6" height="1.6" fill="#222"/>
<polyline points="412.0,202.4 437.8,189.4 463.6,173.0 470.4,153.3" fill="none" stroke="#6e6e6e" stroke-width="0.7"/>
<rect x="411.2" y="201.6" width="1.6" height="1.6" fill="#222"/>
<rect x="437.0" y="188.6" width="1.6" height="1.6" fill="#222"/>
<rect x="462.8" y="172.2" width="1.6" height="1.6" fill="#222"/>
<rect x="469.6" y="152.5" width="1.6" height="1.6" fill="#222"/>
<polyline points="412.0,202.4 444.3,158.3 463.6,158.9 470.4,168.5" fill="none" stroke="#6e6e6e" stroke-width="0.7"/>
<rect x="411.2" y="201.6" width="1.6" height="1.6" fill="#222"/>
<rect x="443.5" y="157.5" width="1.6" height="1.6" fill="#222"/>
<rect x="462.8" y="158.1" width="1.6" height="1.6" fill="#222"/>
<rect x="469.6" y="167.7" width="1.6" height="1.6" fill="#222"/>
<polyline points="425.3,196.8 437.8,195.6 463.6,187.7 470.4,171.9" fill="none" stroke="#6e6e6e" stroke-width="0.7"/>
<rect x="424.5" y="196.0" width="1.6" height="1.6" fill="#222"/>
<rect x="437.0" y="194.8" width="1.6" height="1.6" fill="#222"/>
<rect x="462.8" y="186.9" width="1.6" height="1.6" fill="#222"/>
<rect x="469.6" y="171.1" width="1.6" height="1.6" fill="#222"/>
<polyline points="425.3,193.4 451.2,162.3 463.6,158.9" fill="none" stroke="#6e6e6e" stroke-width="0.7"/>
<rect x="424.5" y="192.6" width="1.6" height="1.6" fill="#222"/>
<rect x="450.4" y="161.5" width="1.6" height="1.6" fill="#222"/>
<rect x="462.8" y="158.1" width="1.6" height="1.6" fill="#222"/>
<polyline points="424.8,172.8 431.2,174.7 451.2,156.1" fill="none" stroke="#6e6e6e" stroke-width="0.7"/>
<rect x="424.0" y="172.0" width="1.6" height="1.6" fill="#222"/>
<rect x="430.4" y="173.9" width="1.6" height="1.6" fill="#222"/>
<rect x="450.4" y="155.3" width="1.6" height="1.6" fill="#222"/>
<polyline points="431.2,153.6 444.3,150.4 457.4,149.3 470.4,143.6 477.2,145.3" fill="none" stroke="#6e6e6e" stroke-width="0.7"/>
<rect x="430.4" y="152.8" width="1.6" height="1.6" fill="#222"/>
<rect x="443.5" y="149.6" width="1.6" height="1.6" fill="#222"/>
<rect x="456.6" y="148.5" width="1.6" height="1.6" fill="#222"/>
<rect x="469.6" y="142.8" width="1.6" height="1.6" fill="#222"/>
<rect x="476.4" y="144.5" width="1.6" height="1.6" fill="#222"/>
<polyline points="431.2,164.9 444.3,154.7 457.4,142.5" fill="none" stroke="#6e6e6e" stroke-width="0.7"/>
<rect x="430.4" y="164.1" width="1.6" height="1.6" fill="#222"/>
<rect x="443.5" y="153.9" width="1.6" height="1.6" fill="#222"/>
<rect x="456.6" y="141.7" width="1.6" height="1.6" fill="#222"/>
<polyline points="431.2,171.0 451.2,178.1 470.4,143.6" fill="none" stroke="#6e6e6e" stroke-width="0.7"/>
<rect x="430.4" y="170.2" width="1.6" height="1.6" fill="#222"/>
<rect x="450.4" y="177.3" width="1.6" height="1.6" fill="#222"/>
<rect x="469.6" y="142.8" width="1.6" height="1.6" fill="#222"/>
<polyline points="470.4,160.6 490.2,161.2" fill="none" stroke="#6e6e6e" stroke-width="0.7"/>
<rect x="469.6" y="159.8" width="1.6" height="1.6" fill="#222"/>
<rect x="489.4" y="160.4" width="1.6" height="1.6" fill="#222"/>
<polyline points="437.8,182.1 463.6,173.0 483.4,146.5" fill="none" stroke="#6e6e6e" stroke-width="0.7"/>
<rect x="437.0" y="181.3" width="1.6" height="1.6" fill="#222"/>
<rect x="462.8" y="172.2" width="1.6" height="1.6" fill="#222"/>
<rect x="482.6" y="145.7" width="1.6" height="1.6" fill="#222"/>
<polyline points="444.3,158.3 470.4,176.4" fill="none" stroke="#6e6e6e" stroke-width="0.7"/>
<rect x="443.5" y="157.5" width="1.6" height="1.6" fill="#222"/>
<rect x="469.6" y="175.6" width="1.6" height="1.6" fill="#222"/>
<polyline points="477.2,151.6 490.2,148.4" fill="none" stroke="#6e6e6e" stroke-width="0.7"/>
<rect x="476.4" y="150.8" width="1.6" height="1.6" fill="#222"/>
<rect x="489.4" y="147.6" width="1.6" height="1.6" fill="#222"/>
<polyline points="451.2,162.3 470.4,160.6 490.2,146.5" fill="none" stroke="#6e6e6e" stroke-width="0.7"/>
<rect x="450.4" y="161.5" width="1.6" height="1.6" fill="#222"/>
<rect x="469.6" y="159.8" width="1.6" height="1.6" fill="#222"/>
<rect x="489.4" y="145.7" width="1.6" height="1.6" fill="#222"/>
<rect x="430.4" y="145.7" width="1.6" height="1.6" fill="#222"/>
<polyline points="412.0,193.1 490.2,145.9" fill="none" stroke="#d65858" stroke-width="1.2"/>
<polyline points="412.0,194.2 490.2,148.0" fill="none" stroke="#c06070" stroke-width="0.9"/>
<line x1="30.50" y1="266.00" x2="99.20" y2="266.00" stroke="#6a6a6a" stroke-width="1.1"/>
<line x1="163.80" y1="266.00" x2="233.10" y2="266.00" stroke="#6a6a6a" stroke-width="1.1"/>
<text x="129.80" y="269.22" font-size="8.95" text-anchor="middle" fill="#1e1e1e" font-weight="normal" >NSG BM</text>
<line x1="302.00" y1="265.50" x2="371.00" y2="265.50" stroke="#6a6a6a" stroke-width="1.1"/>
<line x1="429.60" y1="265.50" x2="499.40" y2="265.50" stroke="#6a6a6a" stroke-width="1.1"/>
<text x="398.60" y="268.72" font-size="8.95" text-anchor="middle" fill="#1e1e1e" font-weight="normal" >SCF BM</text>
<clipPath id="fc1"><rect x="13.5" y="295.5" width="64.5" height="63.5"/></clipPath>
<g clip-path="url(#fc1)"><path d="M33.75,359.00 L17.06,359.00 L15.09,356.50 L13.50,353.26 L13.50,331.68 L15.05,328.50 L17.00,326.04 L19.75,323.85 L22.50,322.58 L24.75,322.14 L27.00,322.23 L29.25,322.86 L31.50,324.08 L33.50,325.75 L35.50,328.11 L37.07,330.75 L38.17,333.50 L38.95,336.75 L39.39,340.50 L39.42,344.00 L39.06,347.50 L38.19,351.25 L37.08,354.25 L35.50,356.99 L33.75,359.00 Z" fill="#f6f6f6" fill-rule="evenodd" stroke="#777" stroke-width="0.45" stroke-linejoin="round"/><path d="M28.50,359.00 L21.77,359.00 L20.00,358.19 L18.25,357.01 L16.75,355.43 L15.67,353.50 L14.86,351.00 L14.10,347.00 L13.81,343.25 L14.00,339.50 L14.84,334.50 L15.87,331.25 L17.25,329.03 L19.00,327.46 L21.50,326.19 L24.25,325.50 L26.50,325.49 L28.50,325.98 L30.75,327.10 L32.75,328.66 L34.37,330.50 L35.54,332.50 L36.34,334.75 L36.85,337.50 L37.17,341.50 L37.11,345.75 L36.57,349.00 L35.57,352.50 L34.50,354.59 L33.00,356.38 L30.75,358.04 L28.50,359.00 Z" fill="#eeeeee" fill-rule="evenodd" stroke="#777" stroke-width="0.45" stroke-linejoin="round"/><path d="M26.75,357.01 L24.50,357.21 L22.50,356.98 L20.50,356.38 L18.75,355.42 L17.50,354.22 L16.63,352.75 L16.05,351.00 L15.67,348.75 L15.70,340.75 L16.43,334.75 L17.08,332.25 L18.10,330.50 L19.50,329.27 L21.25,328.51 L23.75,328.05 L26.00,328.01 L28.00,328.34 L30.00,329.10 L31.75,330.21 L33.06,331.50 L34.05,333.00 L34.72,334.75 L35.12,337.00 L35.52,346.00 L35.16,348.25 L34.14,352.00 L33.00,353.96 L31.50,355.30 L29.50,356.27 L26.75,357.01 Z" fill="#e6e6e6" fill-rule="evenodd" stroke="#777" stroke-width="0.45" stroke-linejoin="round"/><path d="M26.00,355.01 L24.00,355.22 L22.25,355.13 L20.75,354.79 L19.25,354.10 L18.25,353.33 L17.44,352.25 L16.55,349.25 L16.55,347.00 L18.26,333.25 L19.00,331.83 L20.00,330.93 L21.25,330.41 L23.25,330.06 L25.00,330.01 L27.75,330.31 L29.25,330.69 L30.75,331.41 L31.79,332.25 L32.74,333.50 L33.35,335.00 L33.63,336.50 L34.21,346.00 L33.94,347.75 L32.94,351.25 L32.06,352.75 L30.75,353.80 L29.25,354.37 L26.00,355.01 Z" fill="#dedede" fill-rule="evenodd" stroke="#777" stroke-width="0.45" stroke-linejoin="round"/><path d="M24.75,353.27 L21.75,353.34 L19.00,352.31 L17.75,350.90 L17.20,348.50 L17.40,346.75 L18.62,342.75 L19.96,334.00 L20.50,333.16 L21.40,332.50 L23.00,331.87 L24.25,331.66 L29.25,332.46 L30.50,333.13 L31.49,334.25 L32.14,336.25 L32.26,340.00 L32.95,345.50 L32.50,347.93 L31.50,350.50 L30.75,351.53 L29.25,352.31 L24.75,353.27 Z" fill="#d6d6d6" fill-rule="evenodd" stroke="#777" stroke-width="0.45" stroke-linejoin="round"/><path d="M23.25,351.52 L21.25,351.36 L19.00,350.63 L18.14,349.50 L17.94,348.00 L18.26,346.75 L20.00,343.50 L22.14,335.25 L23.23,333.75 L24.50,333.33 L28.75,334.48 L29.96,335.50 L30.34,336.75 L30.56,339.75 L31.40,343.00 L31.58,345.25 L31.00,347.16 L29.25,349.06 L25.50,350.92 L23.25,351.52 Z" fill="#cccccc" fill-rule="evenodd" stroke="#777" stroke-width="0.45" stroke-linejoin="round"/><path d="M23.00,349.55 L21.25,349.68 L19.75,349.37 L19.07,348.75 L18.95,347.75 L19.50,346.66 L21.57,344.75 L22.73,339.75 L24.00,336.89 L24.31,336.50 L24.75,336.39 L25.50,336.97 L26.75,338.57 L28.00,341.10 L29.25,342.95 L29.40,343.75 L29.12,344.50 L27.25,345.64 L24.97,348.50 L24.00,349.19 L23.00,349.55 Z" fill="#c0c0c0" fill-rule="evenodd" stroke="#777" stroke-width="0.45" stroke-linejoin="round"/></g>
<g clip-path="url(#fc1)"><path d="M46.75,357.76 L44.75,357.79 L40.00,356.15 L38.35,354.75 L37.35,352.75 L37.02,349.75 L37.02,339.25 L37.30,335.00 L37.28,330.75 L37.99,328.00 L38.86,326.75 L40.00,325.83 L41.25,325.29 L42.75,324.99 L53.50,324.92 L55.50,325.21 L58.25,326.16 L59.25,325.97 L61.50,325.03 L62.75,325.05 L63.43,325.75 L63.70,326.75 L63.36,330.00 L62.64,332.00 L60.25,336.82 L59.34,339.50 L57.25,342.17 L54.97,346.25 L54.81,347.50 L55.80,349.00 L55.74,349.75 L55.25,350.27 L52.50,351.98 L50.78,354.75 L49.50,356.19 L48.25,357.11 L46.75,357.76 Z" fill="#f4f4f4" fill-rule="evenodd" stroke="#555" stroke-width="0.4" stroke-linejoin="round"/><path d="M46.75,357.01 L45.00,356.95 L43.12,356.00 L40.50,355.15 L39.22,354.00 L38.48,352.50 L38.19,350.25 L38.11,342.00 L38.49,335.25 L38.34,331.25 L38.91,328.75 L39.54,327.75 L40.50,326.91 L43.00,326.09 L53.50,326.03 L55.25,326.33 L57.75,327.22 L58.75,326.99 L61.25,325.75 L62.50,325.80 L63.03,326.50 L63.20,327.50 L62.59,330.75 L60.00,336.06 L58.73,339.25 L56.75,342.03 L54.50,346.02 L54.07,347.50 L54.29,349.50 L52.00,351.58 L49.28,355.50 L48.00,356.49 L46.75,357.01 Z" fill="#e8e8e8" fill-rule="evenodd" stroke="#555" stroke-width="0.4" stroke-linejoin="round"/><path d="M47.00,356.27 L45.50,356.29 L43.25,354.81 L41.00,354.08 L40.12,353.25 L39.56,352.00 L39.29,342.25 L39.79,335.50 L39.44,331.50 L39.96,329.25 L41.25,327.85 L43.50,327.16 L53.25,327.11 L54.75,327.36 L57.25,328.28 L58.25,328.02 L61.00,326.42 L62.00,326.37 L62.50,326.84 L62.71,327.75 L62.10,330.75 L58.13,339.25 L54.25,345.49 L53.55,347.25 L53.14,349.50 L51.39,351.50 L49.24,354.75 L48.25,355.65 L47.00,356.27 Z" fill="#dadada" fill-rule="evenodd" stroke="#555" stroke-width="0.4" stroke-linejoin="round"/><path d="M46.75,355.75 L45.50,355.56 L43.50,353.41 L41.51,352.75 L40.80,351.50 L41.19,346.75 L40.57,342.00 L41.58,336.25 L40.62,332.00 L41.00,329.89 L41.50,329.22 L42.50,328.59 L45.50,328.14 L53.25,328.16 L57.00,329.30 L58.00,328.89 L60.50,327.15 L61.75,326.96 L62.18,327.50 L62.29,328.25 L61.69,330.75 L57.63,339.25 L54.00,345.13 L52.57,349.25 L49.00,354.36 L48.00,355.24 L46.75,355.75 Z M50.78,339.50 L51.85,338.00 L51.84,337.50 L51.50,337.28 L50.75,337.38 L50.28,338.00 L50.39,339.25 L50.78,339.50 Z" fill="#c8c8c8" fill-rule="evenodd" stroke="#555" stroke-width="0.4" stroke-linejoin="round"/><path d="M47.25,355.04 L45.96,355.00 L45.36,354.50 L44.97,353.75 L44.79,352.00 L45.37,349.50 L46.23,347.75 L50.75,342.03 L53.06,337.75 L53.28,336.50 L52.76,336.00 L50.75,335.50 L48.75,334.30 L46.00,333.98 L43.75,333.21 L42.78,332.25 L42.75,330.98 L43.47,330.25 L44.75,329.87 L52.25,329.42 L54.00,329.56 L56.00,330.43 L56.75,330.45 L57.75,329.90 L60.25,327.85 L61.00,327.55 L61.50,327.67 L61.81,328.75 L61.26,330.75 L59.50,334.02 L57.27,339.00 L53.74,344.75 L51.97,349.25 L48.94,353.75 L47.25,355.04 Z M45.75,344.01 L44.50,343.88 L43.50,343.46 L42.90,342.75 L42.81,342.00 L43.25,340.94 L45.50,338.21 L46.25,337.58 L47.00,337.44 L47.75,337.95 L48.17,338.75 L48.40,340.00 L48.30,341.25 L48.00,342.26 L47.37,343.25 L46.72,343.75 L45.75,344.01 Z" fill="#b0b0b0" fill-rule="evenodd" stroke="#555" stroke-width="0.4" stroke-linejoin="round"/><path d="M47.50,354.30 L46.50,354.40 L45.69,353.50 L45.65,352.00 L46.31,349.75 L47.08,348.25 L51.04,343.00 L54.29,336.50 L54.17,334.75 L53.75,334.37 L52.13,333.75 L51.81,333.00 L51.97,332.00 L52.45,331.50 L53.25,331.24 L54.00,331.32 L55.50,332.02 L56.50,331.85 L57.50,331.17 L59.90,328.75 L60.50,328.41 L61.00,328.43 L61.22,329.25 L60.75,330.75 L59.17,333.50 L56.74,339.00 L53.34,344.50 L51.54,349.00 L48.75,353.24 L47.50,354.30 Z" fill="#959595" fill-rule="evenodd" stroke="#555" stroke-width="0.4" stroke-linejoin="round"/><path d="M47.50,353.57 L46.68,353.50 L46.29,352.50 L46.60,351.00 L47.43,349.00 L51.74,343.25 L53.25,339.85 L54.80,337.25 L55.96,334.00 L58.00,332.21 L60.00,329.79 L60.22,330.00 L60.08,330.50 L58.62,332.75 L57.50,336.19 L56.01,339.25 L52.92,344.00 L50.99,349.00 L48.50,352.73 L47.50,353.57 Z" fill="#777777" fill-rule="evenodd" stroke="#555" stroke-width="0.4" stroke-linejoin="round"/><path d="M48.00,352.01 L47.50,352.13 L47.38,351.75 L48.18,349.25 L50.50,346.07 L51.25,345.52 L51.31,346.25 L50.39,348.75 L48.00,352.01 Z" fill="#555555" fill-rule="evenodd" stroke="#555" stroke-width="0.4" stroke-linejoin="round"/></g>
<g clip-path="url(#fc1)"><path d="M33.25,323.26 L23.75,323.43 L18.00,322.92 L16.25,322.33 L14.75,321.35 L13.97,320.25 L13.92,319.25 L14.46,318.00 L15.45,317.00 L16.75,316.29 L18.50,315.82 L21.00,315.65 L30.00,315.77 L34.25,316.10 L36.00,316.66 L37.50,317.66 L38.61,319.25 L38.74,320.25 L38.09,321.25 L36.75,322.21 L35.25,322.85 L33.25,323.26 Z" fill="#d8d8d8" fill-rule="evenodd" stroke="#333" stroke-width="0.45" stroke-linejoin="round"/><path d="M30.75,322.50 L23.75,322.53 L18.75,322.10 L17.25,321.63 L16.21,321.00 L15.60,320.25 L15.50,319.25 L16.00,318.25 L17.25,317.29 L18.75,316.80 L21.00,316.61 L33.00,316.91 L35.25,317.57 L36.84,319.00 L37.06,320.25 L36.00,321.38 L34.00,322.16 L30.75,322.50 Z" fill="#a8a8a8" fill-rule="evenodd" stroke="#333" stroke-width="0.45" stroke-linejoin="round"/><path d="M31.50,321.77 L24.75,321.89 L20.00,321.56 L17.56,320.75 L17.04,320.25 L16.84,319.50 L17.25,318.63 L18.25,317.92 L19.50,317.55 L21.25,317.42 L32.25,317.67 L34.25,318.19 L35.54,319.25 L35.63,320.25 L35.00,320.89 L33.50,321.49 L31.50,321.77 Z" fill="#888888" fill-rule="evenodd" stroke="#333" stroke-width="0.45" stroke-linejoin="round"/><path d="M31.50,321.27 L26.00,321.45 L21.00,321.15 L18.63,320.50 L18.11,320.00 L18.01,319.50 L18.53,318.75 L19.50,318.30 L23.00,318.05 L31.75,318.28 L33.50,318.72 L34.47,319.50 L34.54,320.00 L34.00,320.61 L31.50,321.27 Z" fill="#6a6a6a" fill-rule="evenodd" stroke="#333" stroke-width="0.45" stroke-linejoin="round"/><path d="M30.25,321.00 L25.75,321.11 L21.75,320.83 L19.59,320.25 L19.17,319.50 L19.75,318.97 L21.00,318.67 L28.00,318.55 L32.00,318.89 L33.01,319.25 L33.47,319.75 L33.27,320.25 L32.86,320.50 L30.25,321.00 Z" fill="#505050" fill-rule="evenodd" stroke="#333" stroke-width="0.45" stroke-linejoin="round"/><path d="M29.00,320.76 L23.25,320.62 L21.38,320.25 L20.68,319.75 L21.00,319.42 L22.25,319.13 L27.00,318.96 L30.50,319.17 L32.11,319.75 L32.11,320.00 L31.50,320.35 L29.00,320.76 Z" fill="#3a3a3a" fill-rule="evenodd" stroke="#333" stroke-width="0.45" stroke-linejoin="round"/></g>
<path d="M13.5,308 L15.2,308 L16.2,340 L17.4,356.5 L37.8,356.5 L37.8,359 L13.5,359 Z" fill="#111" stroke="none" stroke-width="0.6" opacity="1"/>
<path d="M39,357 L48,356.8 L48,359 L39,359 Z" fill="#222" stroke="none" stroke-width="0.6" opacity="1"/>
<rect x="13.5" y="295.5" width="64.5" height="63.5" fill="none" stroke="#7a7a7a" stroke-width="1"/>
<line x1="38.60" y1="295.50" x2="38.60" y2="359.00" stroke="#333" stroke-width="1"/>
<line x1="13.50" y1="325.40" x2="78.00" y2="325.40" stroke="#333" stroke-width="1"/>
<text x="26.30" y="303.79" font-size="7.75" text-anchor="middle" fill="#1e1e1e" font-weight="normal" >Ms:</text>
<text x="15.60" y="313.39" font-size="7.75" text-anchor="start" fill="#1e1e1e" font-weight="normal" >15.6%</text>
<text x="43.40" y="316.59" font-size="7.75" text-anchor="start" fill="#1e1e1e" font-weight="normal" >Hu:50.0%</text>
<text x="0" y="0" font-size="9.2" text-anchor="middle" fill="#1e1e1e" transform="translate(8.71,329.20) rotate(-90)">msCD45-Cy7APC</text>
<text x="45.60" y="372.31" font-size="9.2" text-anchor="middle" fill="#1e1e1e" font-weight="normal" >hCD45-V450</text>
<clipPath id="fc2"><rect x="99.8" y="295.6" width="65.00000000000001" height="64.0"/></clipPath>
<g clip-path="url(#fc2)"><path d="M131.30,359.12 L122.30,359.24 L120.05,358.97 L117.55,357.88 L114.05,355.01 L113.05,354.60 L111.80,354.90 L107.80,357.59 L105.80,358.46 L104.55,358.62 L103.30,358.46 L101.35,357.35 L99.80,355.08 L99.80,347.48 L103.22,336.35 L104.11,334.85 L105.05,334.08 L106.30,333.54 L107.55,333.33 L109.05,333.44 L111.12,334.35 L113.55,336.90 L114.30,337.19 L115.30,336.58 L118.30,333.32 L119.55,332.56 L121.05,332.11 L123.55,332.05 L127.30,332.71 L130.80,332.18 L136.30,332.17 L137.55,332.41 L138.80,333.15 L140.20,335.10 L140.90,337.60 L141.18,347.60 L141.90,352.60 L141.69,354.60 L141.03,356.10 L139.80,357.20 L138.80,357.47 L136.05,357.49 L131.30,359.12 Z" fill="#f0f0f0" fill-rule="evenodd" stroke="#7a7a7a" stroke-width="0.45" stroke-linejoin="round"/><path d="M128.05,357.60 L121.55,357.46 L119.80,357.01 L118.05,356.03 L116.84,354.85 L115.91,353.35 L115.39,351.85 L114.80,348.45 L114.30,347.31 L113.80,347.70 L112.38,350.35 L111.10,352.10 L107.55,355.37 L106.05,356.19 L104.80,356.47 L103.55,356.30 L102.30,355.54 L101.41,354.35 L100.94,353.10 L100.73,351.35 L100.91,349.60 L103.24,342.10 L105.30,336.71 L105.85,335.85 L106.80,335.24 L107.80,335.06 L108.80,335.22 L109.80,335.80 L110.42,336.60 L113.80,343.11 L114.30,343.61 L114.80,343.10 L116.60,339.10 L118.03,336.85 L119.80,335.24 L122.05,333.99 L124.30,333.68 L127.30,334.73 L128.30,334.85 L133.30,334.63 L136.55,334.05 L137.55,334.29 L138.37,334.85 L139.38,336.35 L139.79,338.10 L139.61,341.85 L139.75,348.10 L140.41,352.60 L140.14,354.10 L139.63,354.85 L139.05,355.20 L136.05,355.25 L131.80,357.17 L128.05,357.60 Z" fill="#e6e6e6" fill-rule="evenodd" stroke="#7a7a7a" stroke-width="0.45" stroke-linejoin="round"/><path d="M130.05,356.36 L124.55,356.56 L121.05,356.15 L119.80,355.66 L118.63,354.85 L117.77,353.85 L117.17,352.60 L116.81,350.60 L116.57,345.60 L116.74,343.35 L117.22,341.35 L117.99,339.60 L119.05,338.13 L121.82,335.60 L123.05,334.85 L124.80,334.81 L126.80,335.88 L127.80,336.11 L133.30,335.93 L135.80,335.34 L136.80,335.34 L138.05,336.05 L138.78,337.35 L138.95,338.85 L138.54,341.85 L138.66,345.85 L138.21,352.10 L137.80,352.50 L135.80,353.27 L132.55,355.55 L130.05,356.36 Z M105.55,354.65 L104.05,354.66 L102.80,353.77 L102.09,352.10 L102.08,350.10 L102.72,347.60 L104.80,341.71 L106.55,339.22 L107.30,338.54 L108.05,338.32 L108.80,338.68 L109.80,339.63 L111.27,341.85 L111.91,344.10 L111.85,346.60 L111.09,349.10 L109.80,351.19 L107.55,353.50 L105.55,354.65 Z" fill="#dcdcdc" fill-rule="evenodd" stroke="#7a7a7a" stroke-width="0.45" stroke-linejoin="round"/><path d="M126.55,355.60 L123.55,355.49 L121.30,355.02 L119.80,354.19 L118.73,352.85 L118.17,350.85 L117.89,345.60 L118.13,343.10 L118.84,341.10 L119.80,339.79 L121.80,338.25 L123.05,336.43 L123.80,336.00 L124.68,336.10 L126.05,337.07 L126.80,337.31 L130.30,336.87 L133.55,337.00 L136.05,336.49 L137.05,336.71 L137.82,337.60 L138.00,338.85 L137.18,341.85 L137.22,346.35 L136.32,348.85 L133.91,352.60 L132.30,354.23 L130.05,355.24 L126.55,355.60 Z M105.30,352.62 L104.30,352.37 L103.75,351.60 L103.57,350.35 L103.87,348.60 L105.05,344.67 L105.84,342.85 L107.05,341.49 L108.30,341.25 L109.32,341.85 L110.20,343.35 L110.50,345.10 L110.25,347.10 L109.52,348.85 L108.30,350.53 L106.56,352.10 L105.30,352.62 Z" fill="#d0d0d0" fill-rule="evenodd" stroke="#7a7a7a" stroke-width="0.45" stroke-linejoin="round"/><path d="M127.55,354.62 L125.05,354.66 L122.80,354.33 L121.10,353.60 L120.12,352.60 L119.51,350.85 L119.22,346.35 L119.30,344.35 L119.80,342.72 L120.30,342.00 L121.05,341.49 L121.80,341.41 L122.55,341.70 L123.43,342.85 L124.46,346.10 L125.30,346.76 L126.30,346.83 L127.14,346.35 L127.57,345.35 L127.39,344.10 L126.04,341.10 L126.18,339.85 L126.95,338.85 L128.35,338.10 L130.05,337.70 L133.55,338.08 L135.55,337.88 L136.30,338.02 L136.67,338.60 L136.55,339.31 L135.09,341.10 L134.63,342.10 L134.95,344.85 L134.83,345.85 L132.54,351.85 L131.63,353.10 L130.56,353.85 L127.55,354.62 Z M106.80,348.35 L106.45,348.10 L106.31,347.60 L106.55,345.81 L107.30,344.46 L108.05,344.29 L108.58,345.10 L108.54,346.35 L107.80,347.76 L106.80,348.35 Z" fill="#c4c4c4" fill-rule="evenodd" stroke="#7a7a7a" stroke-width="0.45" stroke-linejoin="round"/><path d="M131.05,345.01 L130.80,345.04 L130.30,344.51 L128.33,341.85 L127.90,340.85 L127.92,340.10 L128.30,339.42 L129.80,338.61 L131.80,338.79 L132.66,339.35 L132.89,339.85 L132.79,340.60 L131.05,345.01 Z M127.05,353.61 L124.05,353.43 L122.05,352.43 L121.55,351.74 L121.29,350.85 L121.39,349.60 L121.80,348.73 L122.55,348.49 L126.30,348.92 L130.05,348.12 L130.52,348.35 L130.95,350.10 L130.52,351.85 L129.05,353.10 L127.05,353.61 Z" fill="#b8b8b8" fill-rule="evenodd" stroke="#7a7a7a" stroke-width="0.45" stroke-linejoin="round"/></g>
<g clip-path="url(#fc2)"><path d="M133.30,333.10 L130.55,333.25 L125.30,332.13 L121.30,332.87 L119.55,332.85 L117.55,332.09 L116.74,331.35 L116.16,330.35 L115.98,328.60 L116.66,325.10 L115.47,318.85 L115.52,316.35 L115.94,313.85 L116.95,310.35 L117.88,308.60 L119.80,306.70 L122.05,305.41 L124.55,304.72 L127.30,304.61 L130.05,305.15 L132.30,306.19 L134.05,307.56 L135.55,309.35 L137.62,312.85 L139.20,316.10 L139.99,318.60 L140.36,321.35 L140.22,324.10 L139.62,326.60 L138.55,328.94 L137.05,330.91 L135.30,332.29 L133.30,333.10 Z" fill="#fbfbfb" fill-rule="evenodd" stroke="#8a8a8a" stroke-width="0.45" stroke-linejoin="round"/><path d="M132.05,330.87 L130.05,330.79 L126.55,329.86 L125.05,329.70 L123.80,329.95 L121.55,330.92 L120.30,331.10 L119.05,330.76 L118.21,329.85 L118.09,328.60 L118.90,326.35 L118.98,325.35 L117.26,319.60 L117.09,317.10 L117.33,314.85 L118.26,310.85 L118.91,309.35 L120.30,307.88 L122.30,306.76 L124.55,306.21 L127.30,306.20 L129.80,306.76 L131.80,307.79 L133.27,309.10 L134.38,310.60 L137.52,317.10 L138.22,319.35 L138.50,321.60 L138.35,323.85 L137.72,326.10 L136.62,328.10 L135.30,329.50 L133.80,330.41 L132.05,330.87 Z" fill="#f6f6f6" fill-rule="evenodd" stroke="#8a8a8a" stroke-width="0.45" stroke-linejoin="round"/><path d="M131.05,328.85 L128.80,328.46 L122.80,326.40 L121.05,324.54 L119.07,321.10 L118.39,318.85 L118.22,316.60 L119.29,311.10 L119.62,310.10 L120.30,309.10 L122.30,307.77 L123.80,307.37 L125.55,307.30 L127.80,307.59 L129.80,308.20 L131.05,308.87 L132.30,309.93 L133.96,312.60 L136.55,319.35 L136.87,321.35 L136.76,323.35 L136.05,325.60 L134.80,327.35 L133.05,328.51 L131.05,328.85 Z" fill="#f0f0f0" fill-rule="evenodd" stroke="#8a8a8a" stroke-width="0.45" stroke-linejoin="round"/><path d="M132.30,326.87 L130.80,327.10 L129.30,326.91 L124.55,325.23 L122.30,323.62 L120.30,321.02 L119.22,318.35 L119.08,315.85 L120.30,310.60 L120.87,309.60 L121.80,308.81 L123.05,308.29 L124.55,308.12 L128.05,308.76 L130.80,309.97 L132.51,311.85 L135.15,319.60 L135.46,321.85 L135.20,323.60 L134.55,325.06 L133.55,326.19 L132.30,326.87 Z" fill="#eaeaea" fill-rule="evenodd" stroke="#8a8a8a" stroke-width="0.45" stroke-linejoin="round"/><path d="M131.30,325.38 L130.05,325.49 L128.30,325.24 L124.80,323.96 L122.80,322.35 L120.55,319.33 L119.90,317.60 L119.89,315.60 L120.69,313.10 L121.14,310.60 L121.61,309.85 L122.30,309.31 L124.05,308.84 L126.30,309.24 L130.05,310.63 L131.05,311.40 L131.77,312.35 L132.33,313.85 L132.75,316.85 L133.86,320.10 L134.05,321.64 L133.80,323.07 L133.26,324.10 L132.30,324.98 L131.30,325.38 Z" fill="#e2e2e2" fill-rule="evenodd" stroke="#8a8a8a" stroke-width="0.45" stroke-linejoin="round"/><path d="M130.55,323.92 L129.30,324.09 L127.80,323.94 L125.07,322.85 L123.74,321.60 L121.08,317.85 L120.78,316.85 L120.84,315.85 L121.91,313.60 L121.98,310.85 L122.80,309.90 L124.05,309.60 L125.30,309.85 L129.55,311.53 L130.98,312.85 L131.43,314.35 L131.45,317.60 L132.36,320.10 L132.54,321.35 L132.05,322.89 L131.30,323.60 L130.55,323.92 Z" fill="#dadada" fill-rule="evenodd" stroke="#8a8a8a" stroke-width="0.45" stroke-linejoin="round"/></g>
<g clip-path="url(#fc2)"><path d="M118.55,333.10 L105.05,333.09 L103.30,332.60 L101.76,331.35 L101.06,330.10 L100.67,328.60 L100.06,319.35 L100.84,315.35 L101.55,314.02 L102.55,312.93 L103.80,312.19 L105.30,311.88 L115.30,312.80 L120.05,312.36 L122.80,313.02 L124.59,314.35 L125.10,315.35 L125.16,316.35 L123.54,320.35 L123.32,327.85 L122.99,329.85 L122.30,331.24 L121.30,332.23 L120.05,332.85 L118.55,333.10 Z" fill="#d8d8d8" fill-rule="evenodd" stroke="#333" stroke-width="0.45" stroke-linejoin="round"/><path d="M112.30,330.86 L105.30,330.79 L104.05,330.29 L103.17,329.35 L102.42,327.10 L102.11,323.10 L101.56,319.85 L101.89,317.35 L102.65,315.35 L103.80,314.09 L105.55,313.54 L111.80,313.63 L115.80,314.81 L119.80,313.98 L121.05,314.09 L122.05,314.48 L122.95,315.35 L123.12,316.35 L121.43,319.85 L120.98,327.60 L120.48,329.35 L119.80,330.10 L118.80,330.50 L115.55,330.31 L112.30,330.86 Z" fill="#c0c0c0" fill-rule="evenodd" stroke="#333" stroke-width="0.45" stroke-linejoin="round"/><path d="M109.80,329.12 L107.30,329.34 L105.80,329.16 L104.77,328.60 L103.91,327.35 L103.54,325.85 L103.41,322.85 L102.60,319.60 L102.94,317.60 L103.80,315.83 L104.55,315.15 L105.30,314.83 L110.55,314.29 L111.80,314.41 L113.08,314.85 L115.80,316.96 L116.80,317.40 L117.80,317.23 L119.30,315.94 L120.05,315.82 L120.55,316.03 L120.72,316.35 L120.60,316.85 L119.12,318.60 L119.45,322.60 L119.05,324.19 L118.30,325.54 L117.30,326.32 L112.55,328.45 L109.80,329.12 Z" fill="#a8a8a8" fill-rule="evenodd" stroke="#333" stroke-width="0.45" stroke-linejoin="round"/><path d="M109.05,328.11 L107.80,328.30 L106.55,328.17 L105.80,327.83 L105.05,327.08 L104.57,325.60 L104.79,322.85 L103.67,320.35 L103.61,318.85 L104.30,317.12 L105.37,316.10 L109.30,315.03 L111.30,314.96 L112.46,315.35 L113.42,316.10 L114.83,318.35 L117.26,320.35 L117.61,321.10 L117.64,321.85 L117.09,323.10 L115.80,324.32 L110.80,327.39 L109.05,328.11 Z" fill="#989898" fill-rule="evenodd" stroke="#333" stroke-width="0.45" stroke-linejoin="round"/><path d="M108.05,327.37 L106.80,327.22 L106.05,326.70 L105.63,325.85 L105.71,324.60 L106.30,323.62 L107.05,323.03 L110.05,322.70 L110.35,322.35 L110.32,321.60 L110.01,321.10 L109.30,320.77 L107.05,321.34 L105.80,321.13 L104.80,320.10 L104.76,318.85 L105.58,317.60 L107.72,316.35 L109.63,315.60 L111.30,315.60 L112.05,315.93 L112.72,316.60 L113.47,318.85 L115.60,320.85 L115.71,321.85 L114.55,323.05 L111.55,324.27 L109.84,326.60 L108.05,327.37 Z" fill="#8a8a8a" fill-rule="evenodd" stroke="#333" stroke-width="0.45" stroke-linejoin="round"/><path d="M111.05,318.64 L110.05,318.70 L108.87,318.35 L108.48,317.85 L108.57,317.35 L108.94,316.85 L109.80,316.36 L110.55,316.27 L111.30,316.50 L111.80,317.10 L111.87,317.60 L111.55,318.34 L111.05,318.64 Z M108.30,326.10 L107.55,326.18 L107.05,325.85 L106.95,325.35 L107.23,324.85 L108.05,324.61 L108.62,324.85 L108.79,325.60 L108.30,326.10 Z" fill="#7c7c7c" fill-rule="evenodd" stroke="#333" stroke-width="0.45" stroke-linejoin="round"/></g>
<path d="M102.4,315 C106,312.5 114,311.5 122,311.8" fill="none" stroke="#222" stroke-width="1.2" opacity="1"/>
<path d="M99.8,309 L102.6,309 L102.8,356.5 L99.8,356.5 Z" fill="#111" stroke="none" stroke-width="0.6" opacity="1"/>
<path d="M100.3,357.2 C110,356.2 130,356.0 142,357.2 L142,359.6 L100.3,359.6 Z" fill="#111" stroke="none" stroke-width="0.6" opacity="1"/>
<rect x="99.8" y="295.6" width="65.00000000000001" height="64.0" fill="none" stroke="#7a7a7a" stroke-width="1"/>
<line x1="127.30" y1="295.60" x2="115.30" y2="333.20" stroke="#333" stroke-width="1"/>
<line x1="115.30" y1="333.20" x2="115.30" y2="359.60" stroke="#333" stroke-width="1"/>
<line x1="99.80" y1="333.30" x2="164.80" y2="332.60" stroke="#333" stroke-width="1"/>
<text x="110.20" y="302.79" font-size="7.75" text-anchor="middle" fill="#1e1e1e" font-weight="normal" >B:</text>
<text x="100.60" y="310.99" font-size="7.75" text-anchor="start" fill="#1e1e1e" font-weight="normal" >49.4%</text>
<text x="146.20" y="318.09" font-size="7.75" text-anchor="start" fill="#1e1e1e" font-weight="normal" >My:</text>
<text x="141.80" y="326.19" font-size="7.75" text-anchor="start" fill="#1e1e1e" font-weight="normal" >31.3%</text>
<text x="132.00" y="291.41" font-size="7.8" text-anchor="middle" fill="#1e1e1e" font-weight="normal" >hCD45+ gated</text>
<text x="0" y="0" font-size="9.2" text-anchor="middle" fill="#1e1e1e" transform="translate(94.31,328.40) rotate(-90)">CD19-Cy7PE</text>
<text x="132.70" y="372.31" font-size="9.2" text-anchor="middle" fill="#1e1e1e" font-weight="normal" >CD33-PE</text>
<clipPath id="fc3"><rect x="188.2" y="295.3" width="64.5" height="64.09999999999997"/></clipPath>
<g clip-path="url(#fc3)"><path d="M215.95,359.40 L213.18,359.40 L211.20,357.75 L209.95,357.44 L199.26,359.40 L190.03,359.40 L188.20,358.52 L188.20,354.42 L189.45,353.56 L198.87,348.55 L206.95,343.71 L210.53,342.30 L213.20,340.71 L214.70,340.33 L218.20,340.43 L219.20,340.89 L219.95,341.64 L221.08,344.05 L221.33,348.80 L221.16,352.30 L220.59,355.05 L219.56,357.30 L218.45,358.34 L215.95,359.40 Z" fill="#f5f5f5" fill-rule="evenodd" stroke="#555" stroke-width="0.45" stroke-linejoin="round"/><path d="M195.70,359.06 L192.70,359.21 L190.45,358.66 L189.45,358.05 L188.82,357.30 L188.61,356.55 L188.75,355.80 L189.45,354.87 L190.45,354.19 L193.78,352.80 L199.56,349.80 L207.70,345.14 L210.45,344.08 L213.70,341.86 L214.95,341.61 L217.95,341.75 L218.95,342.20 L219.70,343.04 L220.42,345.30 L220.55,351.05 L219.78,354.55 L219.20,355.63 L218.45,356.37 L215.20,357.98 L214.45,358.12 L213.45,357.78 L211.20,355.95 L209.95,355.81 L201.70,357.91 L195.70,359.06 Z" fill="#ebebeb" fill-rule="evenodd" stroke="#555" stroke-width="0.45" stroke-linejoin="round"/><path d="M195.45,358.30 L193.20,358.50 L191.45,358.16 L190.17,357.30 L189.91,356.80 L189.93,356.05 L190.45,355.30 L191.45,354.64 L195.20,353.28 L200.74,350.55 L207.70,346.63 L210.70,345.56 L212.95,343.44 L213.95,342.81 L215.20,342.57 L217.70,342.74 L218.46,343.05 L219.20,343.83 L219.82,346.05 L219.96,350.80 L219.30,353.55 L218.20,354.91 L214.45,356.62 L213.45,356.26 L211.45,354.58 L210.20,354.39 L195.45,358.30 Z" fill="#dedede" fill-rule="evenodd" stroke="#555" stroke-width="0.45" stroke-linejoin="round"/><path d="M194.70,357.60 L193.20,357.69 L191.95,357.35 L191.35,356.80 L191.35,356.05 L192.45,355.19 L196.20,354.16 L201.45,351.71 L207.95,348.07 L210.95,347.20 L211.77,346.55 L213.45,344.31 L214.20,343.79 L215.45,343.57 L217.45,343.79 L218.20,344.15 L218.70,344.79 L219.12,346.30 L219.39,348.80 L219.34,350.55 L219.01,352.05 L218.20,353.27 L216.70,353.86 L215.20,354.97 L213.95,355.13 L211.45,353.03 L210.45,352.83 L194.70,357.60 Z" fill="#cccccc" fill-rule="evenodd" stroke="#555" stroke-width="0.45" stroke-linejoin="round"/><path d="M214.70,353.66 L213.95,353.64 L213.18,353.05 L212.02,351.30 L211.63,350.05 L212.00,348.80 L213.45,346.37 L214.20,345.48 L214.95,345.19 L215.82,345.55 L216.70,346.81 L217.70,346.88 L218.23,347.80 L218.50,349.55 L218.33,350.55 L217.95,351.19 L216.70,351.67 L214.70,353.66 Z" fill="#a8a8a8" fill-rule="evenodd" stroke="#555" stroke-width="0.45" stroke-linejoin="round"/><path d="M214.45,351.88 L213.70,351.59 L213.23,350.30 L213.47,349.05 L214.20,348.36 L214.86,348.80 L215.23,350.05 L214.99,351.30 L214.45,351.88 Z" fill="#888888" fill-rule="evenodd" stroke="#555" stroke-width="0.45" stroke-linejoin="round"/></g>
<g clip-path="url(#fc3)"><path d="M206.70,328.05 L205.20,328.04 L203.95,327.64 L202.95,326.92 L202.35,326.05 L202.13,324.80 L202.42,323.80 L203.20,322.85 L204.20,322.25 L205.70,321.90 L207.45,322.12 L208.74,322.80 L209.69,324.05 L209.86,325.30 L209.36,326.55 L208.20,327.56 L206.70,328.05 Z" fill="#fcfcfc" fill-rule="evenodd" stroke="#efefef" stroke-width="0.4" stroke-linejoin="round"/></g>
<path d="M189,357.5 L219,357.3 L219,359.4 L189,359.4 Z" fill="#111" stroke="none" stroke-width="0.6" opacity="1"/>
<path d="M188.6,345 L190,345 L190,359 L188.6,359 Z" fill="#333" stroke="none" stroke-width="0.6" opacity="1"/>
<rect x="188.2" y="295.3" width="64.5" height="64.09999999999997" fill="none" stroke="#7a7a7a" stroke-width="1"/>
<line x1="228.60" y1="295.30" x2="228.60" y2="359.40" stroke="#333" stroke-width="1"/>
<line x1="188.20" y1="336.90" x2="252.70" y2="336.90" stroke="#333" stroke-width="1"/>
<text x="201.20" y="305.99" font-size="7.75" text-anchor="middle" fill="#1e1e1e" font-weight="normal" >NK:</text>
<text x="192.30" y="314.29" font-size="7.75" text-anchor="start" fill="#1e1e1e" font-weight="normal" >0.4%</text>
<text x="229.40" y="334.99" font-size="7.75" text-anchor="start" fill="#1e1e1e" font-weight="normal" >T:0.2%</text>
<text x="221.80" y="291.41" font-size="7.8" text-anchor="middle" fill="#1e1e1e" font-weight="normal" >hCD45+ gated</text>
<text x="0" y="0" font-size="9.2" text-anchor="middle" fill="#1e1e1e" transform="translate(183.71,327.70) rotate(-90)">CD56-FITC</text>
<text x="220.40" y="372.31" font-size="9.2" text-anchor="middle" fill="#1e1e1e" font-weight="normal" >CD3-APC</text>
<clipPath id="fc4"><rect x="283.5" y="295.5" width="64.10000000000002" height="63.89999999999998"/></clipPath>
<g clip-path="url(#fc4)"><path d="M326.50,359.02 L323.50,359.01 L320.75,358.31 L318.49,357.00 L316.74,355.00 L316.19,353.75 L315.88,352.25 L315.31,340.25 L315.56,336.75 L316.18,333.50 L317.20,330.50 L318.55,328.00 L320.25,325.97 L322.50,324.27 L325.00,323.05 L327.25,322.65 L329.00,322.94 L330.50,323.74 L331.81,325.00 L332.96,326.75 L334.36,329.75 L335.38,332.75 L335.94,335.75 L336.07,338.75 L335.62,342.75 L333.92,348.75 L333.97,350.00 L334.55,352.50 L334.21,354.00 L333.00,355.49 L330.50,357.41 L328.50,358.49 L326.50,359.02 Z" fill="#f8f8f8" fill-rule="evenodd" stroke="#777" stroke-width="0.45" stroke-linejoin="round"/><path d="M327.25,357.51 L324.75,357.68 L322.00,357.16 L320.00,356.16 L318.64,354.75 L318.04,353.50 L317.74,352.00 L317.37,342.00 L317.59,338.75 L318.07,336.00 L318.75,333.74 L319.75,331.64 L321.00,329.92 L324.75,325.91 L326.25,324.95 L327.75,324.66 L328.75,324.85 L329.90,325.50 L330.83,326.50 L331.58,327.75 L333.99,333.75 L334.47,336.00 L334.62,338.50 L333.99,342.75 L331.73,348.50 L331.91,349.75 L333.10,352.00 L333.04,353.50 L332.50,354.29 L331.50,355.13 L328.75,356.91 L327.25,357.51 Z" fill="#f0f0f0" fill-rule="evenodd" stroke="#777" stroke-width="0.45" stroke-linejoin="round"/><path d="M327.25,356.51 L325.25,356.72 L322.75,356.28 L321.14,355.50 L320.00,354.25 L319.33,352.00 L318.97,342.50 L319.45,338.50 L320.75,335.25 L321.75,333.79 L324.12,331.25 L326.00,327.63 L326.75,326.96 L327.75,326.65 L329.00,327.08 L330.07,328.50 L332.75,334.92 L333.24,338.50 L333.03,340.50 L332.50,342.35 L331.61,344.25 L329.90,347.00 L329.59,348.00 L330.05,349.75 L331.81,352.00 L331.88,353.25 L330.69,354.50 L327.25,356.51 Z" fill="#e8e8e8" fill-rule="evenodd" stroke="#777" stroke-width="0.45" stroke-linejoin="round"/><path d="M325.75,356.01 L324.00,355.81 L322.50,355.27 L321.55,354.50 L321.01,353.50 L320.71,351.75 L320.77,348.00 L320.19,343.00 L320.27,340.50 L320.88,338.50 L322.00,337.13 L325.75,335.55 L328.25,333.93 L329.00,333.81 L330.00,334.24 L330.76,335.00 L331.41,336.25 L331.73,337.75 L331.69,339.25 L331.25,340.94 L329.81,344.50 L328.03,347.50 L328.56,349.50 L330.51,352.00 L330.77,352.75 L330.22,353.75 L328.25,355.23 L327.00,355.82 L325.75,356.01 Z" fill="#e0e0e0" fill-rule="evenodd" stroke="#777" stroke-width="0.45" stroke-linejoin="round"/><path d="M326.50,355.27 L325.25,355.34 L323.81,355.00 L322.98,354.50 L322.36,353.50 L322.20,351.50 L322.58,347.75 L321.52,343.50 L321.31,341.75 L321.69,340.00 L322.50,339.35 L323.25,339.49 L325.00,340.72 L327.50,341.51 L328.25,342.16 L328.64,343.00 L328.49,344.50 L326.94,346.50 L326.66,347.50 L327.65,349.75 L329.33,352.25 L329.40,353.00 L328.08,354.50 L326.50,355.27 Z" fill="#d6d6d6" fill-rule="evenodd" stroke="#777" stroke-width="0.45" stroke-linejoin="round"/><path d="M326.00,345.26 L325.07,345.25 L324.49,344.75 L324.36,344.00 L325.00,343.28 L326.25,343.12 L327.09,343.75 L327.00,344.50 L326.00,345.26 Z M326.50,354.51 L324.96,354.50 L324.25,354.11 L323.85,353.50 L323.90,350.50 L324.41,349.25 L325.00,348.76 L325.50,348.77 L326.25,349.33 L328.11,352.25 L328.15,353.00 L327.91,353.50 L326.50,354.51 Z" fill="#cccccc" fill-rule="evenodd" stroke="#777" stroke-width="0.45" stroke-linejoin="round"/></g>
<g clip-path="url(#fc4)"><path d="M318.25,345.51 L317.25,345.36 L316.32,344.75 L315.59,343.75 L315.11,342.50 L314.81,339.25 L315.40,335.50 L316.82,331.75 L318.80,328.75 L321.00,326.93 L322.25,326.52 L323.25,326.55 L324.19,327.00 L324.91,327.75 L325.80,330.00 L325.98,333.00 L325.40,336.50 L324.10,340.00 L322.41,342.75 L320.25,344.81 L318.25,345.51 Z" fill="#d4d4d4" fill-rule="evenodd" stroke="#333" stroke-width="0.45" stroke-linejoin="round"/><path d="M319.25,344.09 L318.25,344.20 L317.25,343.85 L316.61,343.25 L316.05,342.25 L315.57,339.50 L315.92,336.25 L317.11,332.75 L318.75,330.07 L320.75,328.27 L321.75,327.86 L322.75,327.83 L324.00,328.52 L324.92,330.25 L325.23,332.75 L324.88,335.75 L323.92,338.75 L322.55,341.25 L321.00,343.04 L319.25,344.09 Z" fill="#999999" fill-rule="evenodd" stroke="#333" stroke-width="0.45" stroke-linejoin="round"/><path d="M319.25,343.01 L318.50,343.06 L317.75,342.81 L317.14,342.25 L316.60,341.25 L316.24,339.00 L316.59,336.00 L317.66,333.00 L319.09,330.75 L320.75,329.31 L321.75,328.95 L322.50,328.97 L323.66,329.75 L324.35,331.25 L324.56,333.50 L324.21,336.00 L323.37,338.50 L322.10,340.75 L320.75,342.21 L319.25,343.01 Z" fill="#4a4a4a" fill-rule="evenodd" stroke="#333" stroke-width="0.45" stroke-linejoin="round"/><path d="M319.75,341.84 L319.00,342.00 L318.25,341.83 L317.30,340.75 L316.87,338.75 L317.11,336.25 L317.94,333.75 L319.25,331.60 L320.75,330.30 L322.25,330.06 L323.21,330.75 L323.76,332.00 L323.93,333.75 L323.69,335.75 L323.08,337.75 L322.03,339.75 L321.00,341.00 L319.75,341.84 Z" fill="#a4a4a4" fill-rule="evenodd" stroke="#333" stroke-width="0.45" stroke-linejoin="round"/><path d="M319.75,340.76 L318.75,340.75 L317.86,339.75 L317.55,338.25 L317.73,336.25 L318.38,334.25 L319.43,332.50 L320.50,331.50 L321.75,331.17 L322.50,331.56 L323.04,332.50 L323.25,334.00 L323.07,335.75 L322.53,337.50 L321.75,338.98 L320.75,340.16 L319.75,340.76 Z" fill="#d4d4d4" fill-rule="evenodd" stroke="#333" stroke-width="0.45" stroke-linejoin="round"/></g>
<path d="M322.6,329.2 A3.6,7.2 18 0 0 318.2,342.8" fill="none" stroke="#111" stroke-width="1.3" opacity="1"/>
<path d="M317.7,357.3 C322,356.6 328,356.6 332.3,357.3 L332.3,359.2 L317.7,359.2 Z" fill="#111" stroke="none" stroke-width="0.6" opacity="1"/>
<path d="M343.5,296 L347,296 L347,298 Z" fill="#333" stroke="none" stroke-width="0.6" opacity="1"/>
<ellipse cx="288" cy="356" rx="3" ry="2" fill="none" stroke="#ccc" stroke-width="0.6" opacity="1" transform="rotate(0 288 356)"/>
<rect x="283.5" y="295.5" width="64.10000000000002" height="63.89999999999998" fill="none" stroke="#7a7a7a" stroke-width="1"/>
<line x1="311.60" y1="295.50" x2="311.60" y2="359.40" stroke="#333" stroke-width="1"/>
<line x1="283.50" y1="322.00" x2="347.60" y2="322.00" stroke="#333" stroke-width="1"/>
<text x="296.60" y="304.99" font-size="7.75" text-anchor="middle" fill="#1e1e1e" font-weight="normal" >Ms</text>
<text x="285.80" y="313.79" font-size="7.75" text-anchor="start" fill="#1e1e1e" font-weight="normal" >&lt;0.1%</text>
<text x="312.60" y="316.59" font-size="7.75" text-anchor="start" fill="#1e1e1e" font-weight="normal" >Hu:99.1%</text>
<text x="0" y="0" font-size="9.2" text-anchor="middle" fill="#1e1e1e" transform="translate(279.31,329.20) rotate(-90)">msCD45-Cy7APC</text>
<text x="314.10" y="372.31" font-size="9.2" text-anchor="middle" fill="#1e1e1e" font-weight="normal" >hCD45-V450</text>
<clipPath id="fc5"><rect x="369.0" y="295.4" width="64.69999999999999" height="64.0"/></clipPath>
<g clip-path="url(#fc5)"><path d="M403.00,332.96 L402.00,333.08 L401.25,332.86 L399.77,331.40 L398.13,328.15 L395.64,324.90 L394.61,323.15 L393.66,320.65 L392.89,317.15 L392.47,311.40 L392.65,309.40 L393.11,307.65 L393.87,306.15 L395.00,304.83 L396.50,303.85 L398.00,303.37 L400.50,303.40 L405.00,304.68 L409.75,304.49 L412.00,304.96 L413.50,305.79 L414.90,307.15 L415.92,308.90 L416.42,310.65 L416.47,313.15 L415.90,315.40 L412.40,321.40 L409.93,327.65 L408.00,329.85 L403.00,332.96 Z" fill="#fbfbfb" fill-rule="evenodd" stroke="#8a8a8a" stroke-width="0.45" stroke-linejoin="round"/><path d="M402.25,330.91 L401.50,330.70 L401.00,330.18 L399.53,326.40 L396.50,322.90 L395.83,321.40 L395.39,319.40 L394.58,312.15 L394.75,309.15 L395.25,307.76 L396.03,306.65 L397.25,305.74 L398.50,305.34 L400.75,305.50 L405.25,307.34 L409.25,307.08 L411.05,307.40 L412.25,308.06 L413.09,308.90 L413.79,310.15 L414.12,311.40 L414.09,313.15 L413.55,314.90 L408.03,325.15 L407.00,326.46 L404.75,328.37 L403.25,330.37 L402.25,330.91 Z" fill="#f6f6f6" fill-rule="evenodd" stroke="#8a8a8a" stroke-width="0.45" stroke-linejoin="round"/><path d="M403.50,325.43 L402.75,325.64 L402.00,325.53 L399.25,323.84 L397.82,322.40 L397.16,320.90 L396.34,310.15 L397.00,308.27 L397.75,307.53 L398.50,307.18 L399.50,307.06 L400.75,307.37 L403.75,309.40 L405.00,309.95 L406.25,310.06 L408.75,309.76 L410.00,309.96 L411.00,310.65 L411.53,311.65 L411.51,313.40 L410.44,317.65 L409.88,318.90 L406.00,323.76 L405.00,324.62 L403.50,325.43 Z" fill="#f0f0f0" fill-rule="evenodd" stroke="#8a8a8a" stroke-width="0.45" stroke-linejoin="round"/><path d="M402.75,323.20 L401.25,323.21 L400.00,322.75 L399.00,321.92 L398.47,320.90 L398.33,319.65 L398.74,314.90 L398.32,310.90 L398.57,309.90 L399.25,309.35 L400.50,309.62 L402.45,311.40 L405.36,313.40 L408.25,315.77 L408.88,316.90 L408.59,318.40 L406.75,320.64 L404.50,322.46 L402.75,323.20 Z" fill="#eaeaea" fill-rule="evenodd" stroke="#8a8a8a" stroke-width="0.45" stroke-linejoin="round"/><path d="M402.50,321.45 L401.50,321.53 L400.75,321.31 L400.11,320.65 L399.95,319.90 L401.00,315.31 L401.70,314.40 L402.50,314.19 L403.25,314.45 L403.94,315.15 L405.71,318.15 L405.89,318.90 L405.60,319.65 L404.84,320.40 L402.50,321.45 Z" fill="#e2e2e2" fill-rule="evenodd" stroke="#8a8a8a" stroke-width="0.45" stroke-linejoin="round"/></g>
<g clip-path="url(#fc5)"><path d="M387.75,343.92 L386.00,343.99 L381.75,342.80 L380.25,342.98 L376.75,344.08 L375.50,344.04 L374.50,343.72 L372.50,342.15 L370.60,339.40 L370.00,337.40 L370.38,335.65 L371.33,334.40 L373.00,333.21 L375.25,332.30 L377.50,331.83 L380.50,331.61 L383.75,331.76 L386.50,332.23 L388.75,333.01 L390.26,333.90 L391.50,335.15 L392.12,336.40 L392.24,337.90 L391.66,339.90 L390.48,341.90 L389.25,343.16 L387.75,343.92 Z" fill="#fafafa" fill-rule="evenodd" stroke="#8a8a8a" stroke-width="0.45" stroke-linejoin="round"/><path d="M387.25,342.43 L385.75,342.41 L383.25,341.63 L381.75,341.42 L380.25,341.58 L377.00,342.56 L375.00,342.32 L373.72,341.40 L372.52,339.65 L372.02,337.90 L372.24,336.40 L372.84,335.40 L374.02,334.40 L375.50,333.69 L377.50,333.18 L382.50,332.97 L385.00,333.31 L387.25,333.96 L388.56,334.65 L389.65,335.65 L390.21,336.65 L390.43,337.90 L390.18,339.40 L389.42,340.90 L388.43,341.90 L387.25,342.43 Z" fill="#f4f4f4" fill-rule="evenodd" stroke="#8a8a8a" stroke-width="0.45" stroke-linejoin="round"/><path d="M377.25,341.17 L376.00,341.17 L375.00,340.72 L374.06,339.65 L373.61,338.40 L373.68,337.15 L374.19,336.15 L375.00,335.40 L376.25,334.76 L380.00,334.12 L384.25,334.44 L387.25,335.49 L388.07,336.15 L388.70,337.15 L388.89,338.15 L388.63,339.40 L388.00,340.33 L387.06,340.90 L385.75,340.97 L383.00,340.27 L381.50,340.18 L377.25,341.17 Z" fill="#eeeeee" fill-rule="evenodd" stroke="#8a8a8a" stroke-width="0.45" stroke-linejoin="round"/></g>
<g clip-path="url(#fc5)"><path d="M414.75,359.40 L397.47,359.40 L395.26,356.15 L393.57,352.15 L392.57,347.90 L392.22,343.15 L392.58,338.65 L393.64,334.40 L395.31,330.65 L397.61,327.40 L400.25,325.05 L403.25,323.57 L405.75,323.12 L408.00,323.28 L410.25,323.99 L412.50,325.31 L414.50,327.11 L416.25,329.36 L417.67,331.90 L418.85,334.90 L419.66,338.15 L420.10,341.65 L420.11,345.15 L419.75,348.40 L418.94,351.90 L417.82,354.90 L416.15,357.90 L414.99,359.40 L414.75,359.40 Z" fill="#f2f2f2" fill-rule="evenodd" stroke="#666" stroke-width="0.4" stroke-linejoin="round"/><path d="M408.25,359.40 L403.75,359.25 L401.50,358.09 L399.62,356.40 L397.97,354.15 L396.62,351.40 L395.62,348.15 L395.07,344.65 L395.00,341.40 L395.37,338.40 L396.15,335.65 L397.36,333.15 L399.00,330.94 L401.00,329.17 L403.25,327.97 L405.50,327.46 L407.75,327.60 L409.75,328.31 L411.50,329.44 L413.25,331.19 L414.74,333.40 L415.88,335.90 L416.68,338.65 L417.14,341.65 L417.21,344.90 L416.88,348.15 L416.09,351.90 L415.15,354.40 L414.16,355.90 L412.75,357.22 L410.25,358.69 L408.25,359.40 Z" fill="#e4e4e4" fill-rule="evenodd" stroke="#666" stroke-width="0.4" stroke-linejoin="round"/><path d="M407.50,357.20 L405.75,357.27 L404.00,356.81 L402.50,355.89 L401.06,354.40 L399.43,351.90 L398.16,349.15 L397.31,346.40 L396.82,343.40 L396.77,340.90 L397.06,338.65 L397.66,336.65 L398.70,334.65 L400.00,333.06 L401.50,331.85 L403.25,330.98 L405.25,330.53 L407.25,330.65 L409.00,331.26 L410.50,332.24 L412.00,333.78 L413.21,335.65 L414.08,337.65 L414.77,340.15 L415.16,342.90 L415.21,345.90 L414.88,350.15 L414.59,351.90 L414.00,353.49 L413.16,354.65 L412.00,355.51 L407.50,357.20 Z" fill="#d4d4d4" fill-rule="evenodd" stroke="#666" stroke-width="0.4" stroke-linejoin="round"/><path d="M406.75,355.91 L405.50,355.84 L404.33,355.40 L403.32,354.65 L402.50,353.65 L399.27,347.40 L398.47,344.90 L398.08,342.65 L398.05,340.65 L398.30,338.90 L398.77,337.40 L399.58,335.90 L400.50,334.78 L401.75,333.80 L403.25,333.12 L404.75,332.83 L406.50,332.91 L408.25,333.44 L409.75,334.36 L411.00,335.64 L411.94,337.15 L412.74,339.15 L413.78,344.40 L413.74,350.40 L413.50,351.84 L413.05,352.90 L412.42,353.65 L411.50,354.23 L408.25,355.55 L406.75,355.91 Z" fill="#c4c4c4" fill-rule="evenodd" stroke="#666" stroke-width="0.4" stroke-linejoin="round"/><path d="M407.25,354.71 L406.25,354.80 L405.25,354.57 L403.84,353.40 L400.34,346.40 L399.32,343.15 L399.20,340.15 L400.00,337.54 L401.50,335.74 L402.50,335.15 L403.75,334.77 L405.50,334.70 L407.25,335.02 L408.68,335.65 L409.75,336.54 L411.12,338.90 L412.59,344.40 L412.75,349.74 L412.28,351.90 L411.25,352.89 L407.25,354.71 Z" fill="#b4b4b4" fill-rule="evenodd" stroke="#666" stroke-width="0.4" stroke-linejoin="round"/><path d="M406.50,353.65 L405.50,353.35 L404.66,352.40 L403.64,349.90 L401.38,345.65 L400.34,342.40 L400.31,340.15 L400.90,338.40 L402.00,337.12 L403.75,336.41 L407.00,336.63 L408.25,337.15 L409.00,337.81 L409.87,339.40 L411.77,345.40 L411.78,348.65 L411.23,350.90 L410.50,351.68 L408.25,353.11 L406.50,353.65 Z" fill="#a4a4a4" fill-rule="evenodd" stroke="#666" stroke-width="0.4" stroke-linejoin="round"/><path d="M407.75,351.94 L406.50,352.07 L405.75,351.47 L403.64,347.90 L402.61,345.40 L401.75,342.65 L401.57,340.90 L402.02,339.40 L403.25,338.37 L405.75,338.28 L407.57,338.90 L408.25,339.76 L410.79,344.90 L411.06,347.15 L410.57,349.40 L409.50,350.83 L407.75,351.94 Z" fill="#949494" fill-rule="evenodd" stroke="#666" stroke-width="0.4" stroke-linejoin="round"/><path d="M408.00,350.42 L407.00,350.49 L406.25,350.10 L405.00,348.72 L404.16,347.15 L403.82,345.65 L403.85,344.15 L404.23,342.65 L404.75,342.09 L406.00,342.01 L407.75,342.68 L409.25,343.89 L410.04,345.15 L410.34,346.65 L410.02,348.40 L409.25,349.61 L408.00,350.42 Z" fill="#848484" fill-rule="evenodd" stroke="#666" stroke-width="0.4" stroke-linejoin="round"/></g>
<g clip-path="url(#fc5)"><path d="M376.00,335.42 L373.75,335.30 L372.00,334.51 L370.64,333.15 L369.86,331.40 L369.61,325.90 L369.00,323.88 L369.00,320.13 L371.00,315.56 L371.88,314.65 L373.00,313.98 L376.50,313.17 L379.25,313.32 L381.75,313.02 L384.75,313.23 L388.50,313.10 L390.25,313.46 L391.75,314.27 L392.65,315.15 L393.41,316.40 L393.99,319.15 L393.63,329.40 L393.26,331.15 L392.50,332.56 L391.00,333.86 L389.25,334.44 L384.75,334.30 L380.00,334.50 L376.00,335.42 Z" fill="#d8d8d8" fill-rule="evenodd" stroke="#333" stroke-width="0.45" stroke-linejoin="round"/><path d="M376.50,334.15 L374.75,334.34 L373.00,333.78 L371.78,332.65 L371.14,331.15 L371.32,325.90 L371.07,324.90 L370.05,322.90 L369.91,321.65 L370.37,320.40 L372.75,316.91 L374.50,315.55 L376.75,314.82 L379.25,315.11 L381.75,314.64 L384.75,314.91 L388.00,314.69 L389.50,314.96 L390.75,315.65 L391.90,317.15 L392.37,319.40 L392.19,327.15 L391.73,329.90 L391.00,331.38 L390.00,332.24 L388.50,332.72 L384.00,332.24 L380.25,332.44 L376.50,334.15 Z" fill="#c0c0c0" fill-rule="evenodd" stroke="#333" stroke-width="0.45" stroke-linejoin="round"/><path d="M376.25,333.47 L375.00,333.64 L373.75,333.34 L372.77,332.65 L372.13,331.65 L371.91,329.90 L372.61,325.65 L372.41,324.90 L370.89,322.40 L370.94,321.40 L371.50,320.45 L373.58,318.65 L375.11,316.90 L376.50,316.11 L377.50,316.08 L379.50,316.58 L381.75,315.85 L384.50,316.19 L387.75,315.86 L389.00,316.08 L389.99,316.65 L390.75,317.61 L391.10,318.65 L391.05,322.15 L391.43,325.40 L390.95,328.40 L390.05,330.40 L389.00,331.20 L387.50,331.43 L386.00,331.05 L383.25,329.76 L381.00,329.55 L380.00,330.07 L377.75,332.65 L376.25,333.47 Z" fill="#a8a8a8" fill-rule="evenodd" stroke="#333" stroke-width="0.45" stroke-linejoin="round"/><path d="M376.00,332.92 L375.00,333.05 L374.00,332.79 L373.25,332.25 L372.73,331.40 L372.68,329.65 L374.15,325.40 L373.91,324.65 L371.94,322.65 L371.78,321.90 L372.25,320.95 L374.50,319.57 L376.00,317.76 L376.75,317.32 L378.00,317.58 L379.50,318.89 L381.00,317.44 L382.00,317.05 L384.50,317.62 L387.75,317.02 L389.25,317.63 L389.94,318.90 L389.85,321.90 L390.73,325.40 L390.42,327.40 L389.50,329.24 L388.75,329.89 L388.00,330.12 L387.00,329.94 L386.25,329.44 L383.52,325.40 L383.37,324.40 L383.91,322.90 L383.75,322.68 L382.50,322.85 L381.75,322.60 L379.75,320.57 L379.25,321.09 L377.63,324.90 L378.21,329.15 L378.12,330.65 L377.26,332.15 L376.00,332.92 Z" fill="#989898" fill-rule="evenodd" stroke="#333" stroke-width="0.45" stroke-linejoin="round"/><path d="M387.75,320.27 L387.25,320.26 L386.75,319.66 L386.87,319.15 L387.23,318.90 L387.75,318.93 L388.11,319.40 L388.07,319.90 L387.75,320.27 Z M376.00,322.97 L373.94,322.90 L373.25,322.45 L373.10,321.90 L373.50,321.39 L375.25,320.60 L376.75,319.14 L377.25,319.14 L377.73,320.15 L377.56,321.40 L377.00,322.38 L376.00,322.97 Z M388.75,328.43 L387.75,328.61 L387.00,328.16 L386.04,326.90 L385.49,325.65 L385.52,324.90 L385.92,324.15 L387.00,323.10 L387.75,322.70 L388.50,322.80 L389.25,323.39 L390.08,325.15 L389.77,327.15 L388.75,328.43 Z M375.50,332.44 L374.75,332.44 L374.00,332.11 L373.41,331.40 L373.23,330.65 L373.41,329.65 L374.00,328.57 L374.75,327.79 L375.50,327.48 L376.25,327.79 L376.73,328.40 L377.30,330.15 L376.83,331.65 L375.50,332.44 Z" fill="#8a8a8a" fill-rule="evenodd" stroke="#333" stroke-width="0.45" stroke-linejoin="round"/><path d="M388.50,327.26 L387.50,327.05 L386.96,326.40 L386.71,325.65 L387.02,324.65 L388.00,324.08 L388.92,324.40 L389.41,325.40 L389.25,326.49 L388.50,327.26 Z M375.75,331.66 L374.75,331.73 L374.00,330.90 L374.16,329.90 L375.00,329.15 L375.75,329.22 L376.41,330.15 L376.27,331.15 L375.75,331.66 Z" fill="#7c7c7c" fill-rule="evenodd" stroke="#333" stroke-width="0.45" stroke-linejoin="round"/></g>
<path d="M371.5,316.8 C377,313.8 386,313.3 392.5,314.8" fill="none" stroke="#222" stroke-width="1.2" opacity="1"/>
<path d="M369,316 L372,316 L372.2,358.5 L369,358.5 Z" fill="#111" stroke="none" stroke-width="0.6" opacity="1"/>
<path d="M392.5,357.0 C400,356.3 410,356.2 418.5,357.0 L418.5,359.4 L392.5,359.4 Z" fill="#111" stroke="none" stroke-width="0.6" opacity="1"/>
<path d="M371,357.8 L391,357.8 L391,359.4 L371,359.4 Z" fill="#555" stroke="none" stroke-width="0.6" opacity="1"/>
<rect x="369.0" y="295.4" width="64.69999999999999" height="64.0" fill="none" stroke="#7a7a7a" stroke-width="1"/>
<line x1="397.00" y1="295.40" x2="393.60" y2="334.20" stroke="#333" stroke-width="1"/>
<line x1="393.60" y1="334.20" x2="393.60" y2="359.40" stroke="#333" stroke-width="1"/>
<line x1="369.00" y1="334.30" x2="393.60" y2="334.30" stroke="#333" stroke-width="1"/>
<line x1="393.60" y1="334.20" x2="433.70" y2="322.00" stroke="#333" stroke-width="1"/>
<text x="380.80" y="304.19" font-size="7.75" text-anchor="middle" fill="#1e1e1e" font-weight="normal" >B:</text>
<text x="370.00" y="313.39" font-size="7.75" text-anchor="start" fill="#1e1e1e" font-weight="normal" >35.4%</text>
<text x="417.00" y="312.79" font-size="7.75" text-anchor="start" fill="#1e1e1e" font-weight="normal" >My:</text>
<text x="412.60" y="321.29" font-size="7.75" text-anchor="start" fill="#1e1e1e" font-weight="normal" >55.6%</text>
<text x="401.20" y="291.41" font-size="7.8" text-anchor="middle" fill="#1e1e1e" font-weight="normal" >hCD45+ gated</text>
<text x="0" y="0" font-size="9.2" text-anchor="middle" fill="#1e1e1e" transform="translate(364.11,328.00) rotate(-90)">CD19-Cy7PE</text>
<text x="401.40" y="372.31" font-size="9.2" text-anchor="middle" fill="#1e1e1e" font-weight="normal" >CD33-PE</text>
<clipPath id="fc6"><rect x="453.9" y="295.4" width="67.10000000000002" height="63.400000000000034"/></clipPath>
<g clip-path="url(#fc6)"><path d="M485.15,358.80 L480.39,358.80 L478.90,357.60 L477.90,357.29 L468.62,358.80 L453.90,358.80 L453.90,355.40 L453.90,351.48 L457.35,349.40 L462.15,346.00 L467.40,343.34 L472.40,342.01 L478.84,341.65 L481.90,340.30 L483.15,340.24 L486.40,342.00 L489.65,343.04 L490.87,343.90 L492.18,345.90 L492.81,348.90 L492.88,350.90 L492.62,352.90 L492.05,354.65 L491.16,356.15 L489.40,357.62 L486.40,358.34 L485.15,358.80 Z" fill="#f5f5f5" fill-rule="evenodd" stroke="#555" stroke-width="0.45" stroke-linejoin="round"/><path d="M462.40,358.80 L456.71,358.80 L454.90,358.13 L453.90,357.31 L453.90,353.52 L455.61,352.15 L459.46,350.15 L463.40,347.52 L469.15,344.29 L472.65,343.26 L478.65,342.89 L481.90,341.80 L482.90,341.74 L483.90,342.04 L486.40,343.50 L489.15,344.55 L490.15,345.40 L490.90,346.65 L491.59,349.40 L491.47,352.15 L490.58,354.40 L489.90,355.23 L488.90,355.90 L486.15,356.54 L483.90,358.02 L482.65,358.35 L481.40,357.88 L478.90,355.54 L477.65,355.30 L473.15,356.47 L467.15,357.57 L462.40,358.80 Z" fill="#ebebeb" fill-rule="evenodd" stroke="#555" stroke-width="0.45" stroke-linejoin="round"/><path d="M460.65,358.15 L457.90,358.08 L455.75,357.15 L455.07,356.40 L454.80,355.65 L454.86,354.90 L455.23,354.15 L456.74,352.90 L461.15,350.92 L469.90,345.54 L471.90,344.62 L474.65,344.03 L478.90,343.85 L481.90,342.83 L483.15,342.84 L488.84,346.15 L489.65,347.09 L490.24,348.40 L490.52,351.15 L490.23,352.40 L489.65,353.48 L488.40,354.44 L485.90,355.08 L483.40,356.88 L482.40,356.97 L481.65,356.65 L479.15,353.91 L478.65,353.55 L477.90,353.42 L473.90,354.81 L466.90,356.21 L462.65,357.70 L460.65,358.15 Z" fill="#dedede" fill-rule="evenodd" stroke="#555" stroke-width="0.45" stroke-linejoin="round"/><path d="M460.90,356.96 L459.15,357.09 L457.55,356.65 L456.66,355.65 L456.85,354.65 L458.40,353.50 L462.90,352.02 L466.15,349.79 L469.91,347.90 L472.90,345.90 L474.15,345.43 L478.40,345.17 L481.65,343.80 L483.15,343.77 L484.60,344.65 L486.65,347.09 L488.40,348.22 L489.15,349.55 L489.19,351.15 L488.65,352.23 L487.90,352.73 L486.15,353.24 L484.15,355.16 L483.15,355.74 L482.15,355.67 L481.15,354.90 L478.15,349.98 L476.16,351.90 L474.15,353.04 L471.20,353.90 L465.90,354.77 L460.90,356.96 Z" fill="#cccccc" fill-rule="evenodd" stroke="#555" stroke-width="0.45" stroke-linejoin="round"/><path d="M483.40,354.40 L482.40,354.54 L481.40,353.78 L480.52,352.15 L480.12,350.40 L480.02,347.15 L480.19,346.15 L481.00,345.15 L482.15,344.63 L483.40,344.86 L484.27,345.65 L485.01,347.15 L485.67,349.65 L485.64,350.90 L485.19,352.15 L484.25,353.65 L483.40,354.40 Z" fill="#a8a8a8" fill-rule="evenodd" stroke="#555" stroke-width="0.45" stroke-linejoin="round"/><path d="M483.15,353.30 L482.40,353.33 L481.65,352.67 L480.92,350.40 L481.16,346.90 L481.65,346.03 L482.40,345.68 L483.15,345.88 L483.81,346.65 L484.57,349.40 L484.36,351.65 L483.86,352.65 L483.15,353.30 Z" fill="#888888" fill-rule="evenodd" stroke="#555" stroke-width="0.45" stroke-linejoin="round"/><path d="M482.90,351.92 L482.15,351.59 L481.72,350.15 L481.91,348.40 L482.15,347.81 L482.65,347.49 L483.40,348.36 L483.72,349.90 L483.53,351.15 L482.90,351.92 Z" fill="#555555" fill-rule="evenodd" stroke="#555" stroke-width="0.45" stroke-linejoin="round"/></g>
<g clip-path="url(#fc6)"><path d="M474.40,327.69 L472.90,327.54 L471.65,326.87 L470.68,325.65 L470.31,324.40 L470.46,322.90 L471.13,321.65 L472.15,320.79 L473.65,320.31 L475.15,320.48 L476.37,321.15 L477.21,322.15 L477.69,323.65 L477.52,325.15 L476.82,326.40 L475.65,327.32 L474.40,327.69 Z M503.90,351.90 L501.40,351.77 L500.15,351.28 L499.30,350.65 L498.76,349.90 L498.56,349.15 L498.74,348.15 L499.26,347.40 L500.90,346.39 L502.90,346.03 L504.90,346.32 L506.65,347.31 L507.42,348.65 L507.10,350.15 L505.90,351.25 L503.90,351.90 Z" fill="#fcfcfc" fill-rule="evenodd" stroke="#ececec" stroke-width="0.4" stroke-linejoin="round"/></g>
<path d="M454.2,343 L456.2,343 L456.6,358.4 L454.2,358.4 Z" fill="#111" stroke="none" stroke-width="0.6" opacity="1"/>
<path d="M456.3,356.8 L485.4,356.8 L485.4,358.6 L456.3,358.6 Z" fill="#111" stroke="none" stroke-width="0.6" opacity="1"/>
<rect x="453.9" y="295.4" width="67.10000000000002" height="63.400000000000034" fill="none" stroke="#7a7a7a" stroke-width="1"/>
<line x1="494.80" y1="295.40" x2="494.80" y2="358.80" stroke="#333" stroke-width="1"/>
<line x1="453.90" y1="337.90" x2="520.00" y2="337.90" stroke="#333" stroke-width="1"/>
<text x="467.80" y="306.49" font-size="7.75" text-anchor="middle" fill="#1e1e1e" font-weight="normal" >NK:</text>
<text x="458.40" y="315.49" font-size="7.75" text-anchor="start" fill="#1e1e1e" font-weight="normal" >0.3%</text>
<text x="496.40" y="336.29" font-size="7.75" text-anchor="start" fill="#1e1e1e" font-weight="normal" >T:1.1%</text>
<text x="488.30" y="291.61" font-size="7.8" text-anchor="middle" fill="#1e1e1e" font-weight="normal" >hCD45+ gated</text>
<text x="0" y="0" font-size="9.2" text-anchor="middle" fill="#1e1e1e" transform="translate(449.71,327.80) rotate(-90)">CD56-FITC</text>
<text x="482.70" y="372.31" font-size="9.2" text-anchor="middle" fill="#1e1e1e" font-weight="normal" >CD3-APC</text>
<path d="M55.5,573.2 L55.5,422.3 L204.7,422.3 L204.7,573.2 Z" fill="none" stroke="#444" stroke-width="1"/>
<text x="53.60" y="428.30" font-size="7.5" text-anchor="end" fill="#1e1e1e" font-weight="normal" >100</text>
<line x1="55.50" y1="425.60" x2="57.00" y2="425.60" stroke="#444" stroke-width="0.6"/>
<text x="53.60" y="457.84" font-size="7.5" text-anchor="end" fill="#1e1e1e" font-weight="normal" >80</text>
<line x1="55.50" y1="455.14" x2="57.00" y2="455.14" stroke="#444" stroke-width="0.6"/>
<text x="53.60" y="487.38" font-size="7.5" text-anchor="end" fill="#1e1e1e" font-weight="normal" >60</text>
<line x1="55.50" y1="484.68" x2="57.00" y2="484.68" stroke="#444" stroke-width="0.6"/>
<text x="53.60" y="516.92" font-size="7.5" text-anchor="end" fill="#1e1e1e" font-weight="normal" >40</text>
<line x1="55.50" y1="514.22" x2="57.00" y2="514.22" stroke="#444" stroke-width="0.6"/>
<text x="53.60" y="546.46" font-size="7.5" text-anchor="end" fill="#1e1e1e" font-weight="normal" >20</text>
<line x1="55.50" y1="543.76" x2="57.00" y2="543.76" stroke="#444" stroke-width="0.6"/>
<text x="0" y="0" font-size="7.86" text-anchor="middle" fill="#1e1e1e" transform="translate(34.03,500.50) rotate(-90)">Engraftment levels of hCD45+ cells</text>
<text x="67.00" y="583.81" font-size="7.8" text-anchor="middle" fill="#1e1e1e" font-weight="normal" >BM</text>
<line x1="67.00" y1="573.20" x2="67.00" y2="575.20" stroke="#444" stroke-width="0.6"/>
<text x="92.50" y="583.81" font-size="7.8" text-anchor="middle" fill="#1e1e1e" font-weight="normal" >SP</text>
<line x1="92.50" y1="573.20" x2="92.50" y2="575.20" stroke="#444" stroke-width="0.6"/>
<text x="117.50" y="583.81" font-size="7.8" text-anchor="middle" fill="#1e1e1e" font-weight="normal" >PB</text>
<line x1="117.50" y1="573.20" x2="117.50" y2="575.20" stroke="#444" stroke-width="0.6"/>
<text x="142.30" y="583.81" font-size="7.8" text-anchor="middle" fill="#1e1e1e" font-weight="normal" >BM</text>
<line x1="142.30" y1="573.20" x2="142.30" y2="575.20" stroke="#444" stroke-width="0.6"/>
<text x="166.50" y="583.81" font-size="7.8" text-anchor="middle" fill="#1e1e1e" font-weight="normal" >SP</text>
<line x1="166.50" y1="573.20" x2="166.50" y2="575.20" stroke="#444" stroke-width="0.6"/>
<text x="191.30" y="583.81" font-size="7.8" text-anchor="middle" fill="#1e1e1e" font-weight="normal" >PB</text>
<line x1="191.30" y1="573.20" x2="191.30" y2="575.20" stroke="#444" stroke-width="0.6"/>
<line x1="62.00" y1="589.50" x2="123.00" y2="589.50" stroke="#555" stroke-width="1"/>
<line x1="136.40" y1="589.50" x2="197.50" y2="589.50" stroke="#555" stroke-width="1"/>
<text x="92.50" y="600.28" font-size="8.0" text-anchor="middle" fill="#1e1e1e" font-weight="normal" >NSG</text>
<text x="166.50" y="600.28" font-size="8.0" text-anchor="middle" fill="#1e1e1e" font-weight="normal" >SCF</text>
<rect x="64.20" y="428.70" width="2.6" height="2.6" fill="none" stroke="#3a3a3a" stroke-width="0.75"/>
<rect x="68.20" y="432.45" width="2.6" height="2.6" fill="none" stroke="#3a3a3a" stroke-width="0.75"/>
<rect x="64.20" y="444.20" width="2.6" height="2.6" fill="none" stroke="#3a3a3a" stroke-width="0.75"/>
<rect x="68.20" y="441.70" width="2.6" height="2.6" fill="none" stroke="#3a3a3a" stroke-width="0.75"/>
<rect x="66.20" y="458.20" width="2.6" height="2.6" fill="none" stroke="#3a3a3a" stroke-width="0.75"/>
<rect x="64.20" y="466.20" width="2.6" height="2.6" fill="none" stroke="#3a3a3a" stroke-width="0.75"/>
<rect x="68.20" y="464.45" width="2.6" height="2.6" fill="none" stroke="#3a3a3a" stroke-width="0.75"/>
<rect x="66.20" y="474.95" width="2.6" height="2.6" fill="none" stroke="#3a3a3a" stroke-width="0.75"/>
<rect x="66.20" y="489.95" width="2.6" height="2.6" fill="none" stroke="#3a3a3a" stroke-width="0.75"/>
<rect x="66.20" y="502.45" width="2.6" height="2.6" fill="none" stroke="#3a3a3a" stroke-width="0.75"/>
<rect x="66.20" y="516.70" width="2.6" height="2.6" fill="none" stroke="#3a3a3a" stroke-width="0.75"/>
<rect x="66.20" y="533.70" width="2.6" height="2.6" fill="none" stroke="#3a3a3a" stroke-width="0.75"/>
<rect x="66.20" y="553.20" width="2.6" height="2.6" fill="none" stroke="#3a3a3a" stroke-width="0.75"/>
<line x1="59.30" y1="478.50" x2="75.00" y2="478.50" stroke="#444" stroke-width="1"/>
<line x1="67.50" y1="472.00" x2="67.50" y2="478.50" stroke="#aaa" stroke-width="0.6"/>
<polygon points="79.60,476.10 80.22,477.65 81.88,477.76 80.60,478.82 81.01,480.44 79.60,479.55 78.19,480.44 78.60,478.82 77.32,477.76 78.98,477.65" fill="#111"/>
<rect x="87.45" y="433.70" width="2.6" height="2.6" fill="none" stroke="#3a3a3a" stroke-width="0.75"/>
<rect x="91.20" y="429.95" width="2.6" height="2.6" fill="none" stroke="#3a3a3a" stroke-width="0.75"/>
<rect x="94.95" y="431.20" width="2.6" height="2.6" fill="none" stroke="#3a3a3a" stroke-width="0.75"/>
<rect x="90.70" y="434.70" width="2.6" height="2.6" fill="none" stroke="#3a3a3a" stroke-width="0.75"/>
<rect x="89.20" y="441.70" width="2.6" height="2.6" fill="none" stroke="#3a3a3a" stroke-width="0.75"/>
<rect x="93.20" y="441.70" width="2.6" height="2.6" fill="none" stroke="#3a3a3a" stroke-width="0.75"/>
<rect x="84.95" y="446.70" width="2.6" height="2.6" fill="none" stroke="#3a3a3a" stroke-width="0.75"/>
<rect x="89.20" y="448.70" width="2.6" height="2.6" fill="none" stroke="#3a3a3a" stroke-width="0.75"/>
<rect x="93.20" y="448.20" width="2.6" height="2.6" fill="none" stroke="#3a3a3a" stroke-width="0.75"/>
<rect x="96.70" y="447.45" width="2.6" height="2.6" fill="none" stroke="#3a3a3a" stroke-width="0.75"/>
<rect x="91.20" y="462.95" width="2.6" height="2.6" fill="none" stroke="#3a3a3a" stroke-width="0.75"/>
<rect x="91.20" y="498.70" width="2.6" height="2.6" fill="none" stroke="#3a3a3a" stroke-width="0.75"/>
<rect x="91.20" y="564.95" width="2.6" height="2.6" fill="none" stroke="#3a3a3a" stroke-width="0.75"/>
<line x1="84.50" y1="457.50" x2="101.20" y2="457.50" stroke="#444" stroke-width="1"/>
<line x1="92.50" y1="451.00" x2="92.50" y2="457.50" stroke="#777" stroke-width="0.6"/>
<polygon points="104.00,453.10 104.62,454.65 106.28,454.76 105.00,455.82 105.41,457.44 104.00,456.55 102.59,457.44 103.00,455.82 101.72,454.76 103.38,454.65" fill="#111"/>
<polygon points="108.20,453.10 108.82,454.65 110.48,454.76 109.20,455.82 109.61,457.44 108.20,456.55 106.79,457.44 107.20,455.82 105.92,454.76 107.58,454.65" fill="#111"/>
<rect x="115.70" y="446.20" width="2.6" height="2.6" fill="none" stroke="#3a3a3a" stroke-width="0.75"/>
<rect x="115.70" y="458.70" width="2.6" height="2.6" fill="none" stroke="#3a3a3a" stroke-width="0.75"/>
<rect x="114.45" y="461.20" width="2.6" height="2.6" fill="none" stroke="#3a3a3a" stroke-width="0.75"/>
<rect x="117.45" y="464.20" width="2.6" height="2.6" fill="none" stroke="#3a3a3a" stroke-width="0.75"/>
<rect x="116.20" y="475.70" width="2.6" height="2.6" fill="none" stroke="#3a3a3a" stroke-width="0.75"/>
<rect x="116.20" y="485.70" width="2.6" height="2.6" fill="none" stroke="#3a3a3a" stroke-width="0.75"/>
<rect x="116.20" y="508.20" width="2.6" height="2.6" fill="none" stroke="#3a3a3a" stroke-width="0.75"/>
<rect x="112.45" y="514.45" width="2.6" height="2.6" fill="none" stroke="#3a3a3a" stroke-width="0.75"/>
<rect x="116.20" y="516.70" width="2.6" height="2.6" fill="none" stroke="#3a3a3a" stroke-width="0.75"/>
<rect x="119.95" y="513.20" width="2.6" height="2.6" fill="none" stroke="#3a3a3a" stroke-width="0.75"/>
<rect x="116.20" y="524.45" width="2.6" height="2.6" fill="none" stroke="#3a3a3a" stroke-width="0.75"/>
<rect x="116.20" y="540.70" width="2.6" height="2.6" fill="none" stroke="#3a3a3a" stroke-width="0.75"/>
<rect x="116.20" y="561.70" width="2.6" height="2.6" fill="none" stroke="#3a3a3a" stroke-width="0.75"/>
<line x1="109.50" y1="499.20" x2="125.50" y2="499.20" stroke="#444" stroke-width="1"/>
<line x1="117.50" y1="489.00" x2="117.50" y2="499.20" stroke="#aaa" stroke-width="0.6"/>
<line x1="113.50" y1="489.00" x2="121.50" y2="489.00" stroke="#bbb" stroke-width="0.6"/>
<polygon points="128.80,495.90 129.42,497.45 131.08,497.56 129.80,498.62 130.21,500.24 128.80,499.35 127.39,500.24 127.80,498.62 126.52,497.56 128.18,497.45" fill="#111"/>
<polygon points="133.40,495.90 134.02,497.45 135.68,497.56 134.40,498.62 134.81,500.24 133.40,499.35 131.99,500.24 132.40,498.62 131.12,497.56 132.78,497.45" fill="#111"/>
<polygon points="138.00,495.90 138.62,497.45 140.28,497.56 139.00,498.62 139.41,500.24 138.00,499.35 136.59,500.24 137.00,498.62 135.72,497.56 137.38,497.45" fill="#111"/>
<circle cx="136.00" cy="424.00" r="1.2" fill="none" stroke="#333" stroke-width="0.7"/>
<circle cx="138.20" cy="424.00" r="1.2" fill="none" stroke="#333" stroke-width="0.7"/>
<circle cx="140.40" cy="424.00" r="1.2" fill="none" stroke="#333" stroke-width="0.7"/>
<circle cx="142.60" cy="424.00" r="1.2" fill="none" stroke="#333" stroke-width="0.7"/>
<circle cx="144.80" cy="424.00" r="1.2" fill="none" stroke="#333" stroke-width="0.7"/>
<circle cx="147.00" cy="424.00" r="1.2" fill="none" stroke="#333" stroke-width="0.7"/>
<circle cx="149.20" cy="424.00" r="1.2" fill="none" stroke="#333" stroke-width="0.7"/>
<circle cx="136.00" cy="425.50" r="1.2" fill="none" stroke="#333" stroke-width="0.7"/>
<circle cx="138.20" cy="425.50" r="1.2" fill="none" stroke="#333" stroke-width="0.7"/>
<circle cx="140.40" cy="425.50" r="1.2" fill="none" stroke="#333" stroke-width="0.7"/>
<circle cx="142.60" cy="425.50" r="1.2" fill="none" stroke="#333" stroke-width="0.7"/>
<circle cx="144.80" cy="425.50" r="1.2" fill="none" stroke="#333" stroke-width="0.7"/>
<circle cx="147.00" cy="425.50" r="1.2" fill="none" stroke="#333" stroke-width="0.7"/>
<circle cx="149.20" cy="425.50" r="1.2" fill="none" stroke="#333" stroke-width="0.7"/>
<circle cx="137.00" cy="427.80" r="1.2" fill="none" stroke="#555" stroke-width="0.7"/>
<circle cx="140.00" cy="428.20" r="1.2" fill="none" stroke="#555" stroke-width="0.7"/>
<circle cx="143.00" cy="427.90" r="1.2" fill="none" stroke="#555" stroke-width="0.7"/>
<circle cx="146.00" cy="428.20" r="1.2" fill="none" stroke="#555" stroke-width="0.7"/>
<circle cx="149.00" cy="427.80" r="1.2" fill="none" stroke="#555" stroke-width="0.7"/>
<rect x="135.5" y="422.3" width="14" height="1.3" fill="#222"/>
<circle cx="142.00" cy="433.10" r="1.3" fill="none" stroke="#3a3a3a" stroke-width="0.7"/>
<circle cx="140.00" cy="438.80" r="1.3" fill="none" stroke="#3a3a3a" stroke-width="0.7"/>
<circle cx="144.20" cy="441.00" r="1.3" fill="none" stroke="#3a3a3a" stroke-width="0.7"/>
<circle cx="142.00" cy="454.50" r="1.3" fill="none" stroke="#3a3a3a" stroke-width="0.7"/>
<line x1="135.00" y1="427.00" x2="150.00" y2="427.00" stroke="#222" stroke-width="1"/>
<polygon points="153.40,425.60 154.02,427.15 155.68,427.26 154.40,428.32 154.81,429.94 153.40,429.05 151.99,429.94 152.40,428.32 151.12,427.26 152.78,427.15" fill="#111"/>
<circle cx="161.00" cy="425.00" r="1.3" fill="none" stroke="#3a3a3a" stroke-width="0.7"/>
<circle cx="164.00" cy="424.40" r="1.3" fill="none" stroke="#3a3a3a" stroke-width="0.7"/>
<circle cx="167.00" cy="424.20" r="1.3" fill="none" stroke="#3a3a3a" stroke-width="0.7"/>
<circle cx="170.00" cy="425.00" r="1.3" fill="none" stroke="#3a3a3a" stroke-width="0.7"/>
<circle cx="173.00" cy="424.80" r="1.3" fill="none" stroke="#3a3a3a" stroke-width="0.7"/>
<circle cx="162.00" cy="427.50" r="1.3" fill="none" stroke="#3a3a3a" stroke-width="0.7"/>
<circle cx="165.00" cy="428.00" r="1.3" fill="none" stroke="#3a3a3a" stroke-width="0.7"/>
<circle cx="168.00" cy="427.60" r="1.3" fill="none" stroke="#3a3a3a" stroke-width="0.7"/>
<circle cx="171.00" cy="428.00" r="1.3" fill="none" stroke="#3a3a3a" stroke-width="0.7"/>
<circle cx="160.50" cy="430.50" r="1.3" fill="none" stroke="#3a3a3a" stroke-width="0.7"/>
<circle cx="163.00" cy="431.00" r="1.3" fill="none" stroke="#3a3a3a" stroke-width="0.7"/>
<circle cx="166.00" cy="431.50" r="1.3" fill="none" stroke="#3a3a3a" stroke-width="0.7"/>
<circle cx="169.00" cy="431.00" r="1.3" fill="none" stroke="#3a3a3a" stroke-width="0.7"/>
<circle cx="172.00" cy="430.50" r="1.3" fill="none" stroke="#3a3a3a" stroke-width="0.7"/>
<circle cx="174.50" cy="431.00" r="1.3" fill="none" stroke="#3a3a3a" stroke-width="0.7"/>
<circle cx="169.20" cy="437.20" r="1.3" fill="none" stroke="#3a3a3a" stroke-width="0.7"/>
<circle cx="165.40" cy="440.00" r="1.3" fill="none" stroke="#3a3a3a" stroke-width="0.7"/>
<circle cx="166.90" cy="444.50" r="1.3" fill="none" stroke="#3a3a3a" stroke-width="0.7"/>
<circle cx="166.50" cy="471.40" r="1.3" fill="none" stroke="#3a3a3a" stroke-width="0.7"/>
<line x1="160.00" y1="431.50" x2="174.00" y2="431.50" stroke="#444" stroke-width="1"/>
<polygon points="177.00,429.80 177.62,431.35 179.28,431.46 178.00,432.52 178.41,434.14 177.00,433.25 175.59,434.14 176.00,432.52 174.72,431.46 176.38,431.35" fill="#111"/>
<polygon points="181.40,429.80 182.02,431.35 183.68,431.46 182.40,432.52 182.81,434.14 181.40,433.25 179.99,434.14 180.40,432.52 179.12,431.46 180.78,431.35" fill="#111"/>
<circle cx="186.20" cy="424.90" r="1.3" fill="none" stroke="#3a3a3a" stroke-width="0.7"/>
<circle cx="189.20" cy="425.70" r="1.3" fill="none" stroke="#3a3a3a" stroke-width="0.7"/>
<circle cx="192.30" cy="425.40" r="1.3" fill="none" stroke="#3a3a3a" stroke-width="0.7"/>
<circle cx="196.90" cy="423.80" r="1.3" fill="none" stroke="#3a3a3a" stroke-width="0.7"/>
<circle cx="191.50" cy="430.00" r="1.3" fill="none" stroke="#3a3a3a" stroke-width="0.7"/>
<circle cx="196.90" cy="430.30" r="1.3" fill="none" stroke="#3a3a3a" stroke-width="0.7"/>
<circle cx="186.20" cy="433.40" r="1.3" fill="none" stroke="#3a3a3a" stroke-width="0.7"/>
<circle cx="189.70" cy="433.70" r="1.3" fill="none" stroke="#3a3a3a" stroke-width="0.7"/>
<circle cx="193.40" cy="433.10" r="1.3" fill="none" stroke="#3a3a3a" stroke-width="0.7"/>
<circle cx="187.70" cy="437.70" r="1.3" fill="none" stroke="#3a3a3a" stroke-width="0.7"/>
<circle cx="191.50" cy="438.80" r="1.3" fill="none" stroke="#3a3a3a" stroke-width="0.7"/>
<circle cx="195.40" cy="437.70" r="1.3" fill="none" stroke="#3a3a3a" stroke-width="0.7"/>
<circle cx="193.10" cy="445.70" r="1.3" fill="none" stroke="#3a3a3a" stroke-width="0.7"/>
<circle cx="192.30" cy="457.70" r="1.3" fill="none" stroke="#3a3a3a" stroke-width="0.7"/>
<circle cx="193.10" cy="458.30" r="1.3" fill="none" stroke="#3a3a3a" stroke-width="0.7"/>
<circle cx="190.00" cy="461.40" r="1.3" fill="none" stroke="#3a3a3a" stroke-width="0.7"/>
<circle cx="191.50" cy="468.00" r="1.3" fill="none" stroke="#3a3a3a" stroke-width="0.7"/>
<circle cx="192.00" cy="488.00" r="1.3" fill="none" stroke="#3a3a3a" stroke-width="0.7"/>
<circle cx="192.00" cy="495.60" r="1.3" fill="none" stroke="#3a3a3a" stroke-width="0.7"/>
<circle cx="192.00" cy="527.00" r="1.3" fill="none" stroke="#3a3a3a" stroke-width="0.7"/>
<line x1="184.60" y1="448.80" x2="195.40" y2="448.80" stroke="#444" stroke-width="1.2"/>
<line x1="186.50" y1="443.00" x2="194.50" y2="443.00" stroke="#bbb" stroke-width="0.6"/>
<line x1="191.50" y1="443.00" x2="191.50" y2="448.80" stroke="#aaa" stroke-width="0.6"/>
<polygon points="198.20,444.50 198.82,446.05 200.48,446.16 199.20,447.22 199.61,448.84 198.20,447.95 196.79,448.84 197.20,447.22 195.92,446.16 197.58,446.05" fill="#111"/>
<polygon points="202.80,444.50 203.42,446.05 205.08,446.16 203.80,447.22 204.21,448.84 202.80,447.95 201.39,448.84 201.80,447.22 200.52,446.16 202.18,446.05" fill="#111"/>
<polygon points="207.40,444.50 208.02,446.05 209.68,446.16 208.40,447.22 208.81,448.84 207.40,447.95 205.99,448.84 206.40,447.22 205.12,446.16 206.78,446.05" fill="#111"/>
<path d="M304.5,573.2 L304.5,423.2 L487.5,423.2 L487.5,573.2 Z" fill="none" stroke="#444" stroke-width="1"/>
<text x="301.00" y="425.70" font-size="7.5" text-anchor="end" fill="#1e1e1e" font-weight="normal" >100</text>
<line x1="304.50" y1="423.00" x2="306.00" y2="423.00" stroke="#444" stroke-width="0.6"/>
<text x="301.00" y="455.70" font-size="7.5" text-anchor="end" fill="#1e1e1e" font-weight="normal" >80</text>
<line x1="304.50" y1="453.00" x2="306.00" y2="453.00" stroke="#444" stroke-width="0.6"/>
<text x="301.00" y="485.70" font-size="7.5" text-anchor="end" fill="#1e1e1e" font-weight="normal" >60</text>
<line x1="304.50" y1="483.00" x2="306.00" y2="483.00" stroke="#444" stroke-width="0.6"/>
<text x="301.00" y="515.70" font-size="7.5" text-anchor="end" fill="#1e1e1e" font-weight="normal" >40</text>
<line x1="304.50" y1="513.00" x2="306.00" y2="513.00" stroke="#444" stroke-width="0.6"/>
<text x="301.00" y="545.70" font-size="7.5" text-anchor="end" fill="#1e1e1e" font-weight="normal" >20</text>
<line x1="304.50" y1="543.00" x2="306.00" y2="543.00" stroke="#444" stroke-width="0.6"/>
<text x="0" y="0" font-size="8.55" text-anchor="middle" fill="#1e1e1e" transform="translate(279.08,503.80) rotate(-90)">Frequency of each lineage (BM)</text>
<text x="316.00" y="583.61" font-size="7.8" text-anchor="middle" fill="#1e1e1e" font-weight="normal" >My</text>
<line x1="316.00" y1="573.20" x2="316.00" y2="575.20" stroke="#444" stroke-width="0.6"/>
<text x="338.90" y="583.61" font-size="7.8" text-anchor="middle" fill="#1e1e1e" font-weight="normal" >T</text>
<line x1="338.90" y1="573.20" x2="338.90" y2="575.20" stroke="#444" stroke-width="0.6"/>
<text x="361.70" y="583.61" font-size="7.8" text-anchor="middle" fill="#1e1e1e" font-weight="normal" >B</text>
<line x1="361.70" y1="573.20" x2="361.70" y2="575.20" stroke="#444" stroke-width="0.6"/>
<text x="384.60" y="583.61" font-size="7.8" text-anchor="middle" fill="#1e1e1e" font-weight="normal" >NK</text>
<line x1="384.60" y1="573.20" x2="384.60" y2="575.20" stroke="#444" stroke-width="0.6"/>
<text x="408.00" y="583.61" font-size="7.8" text-anchor="middle" fill="#1e1e1e" font-weight="normal" >My</text>
<line x1="408.00" y1="573.20" x2="408.00" y2="575.20" stroke="#444" stroke-width="0.6"/>
<text x="430.40" y="583.61" font-size="7.8" text-anchor="middle" fill="#1e1e1e" font-weight="normal" >T</text>
<line x1="430.40" y1="573.20" x2="430.40" y2="575.20" stroke="#444" stroke-width="0.6"/>
<text x="453.30" y="583.61" font-size="7.8" text-anchor="middle" fill="#1e1e1e" font-weight="normal" >B</text>
<line x1="453.30" y1="573.20" x2="453.30" y2="575.20" stroke="#444" stroke-width="0.6"/>
<text x="476.30" y="583.61" font-size="7.8" text-anchor="middle" fill="#1e1e1e" font-weight="normal" >NK</text>
<line x1="476.30" y1="573.20" x2="476.30" y2="575.20" stroke="#444" stroke-width="0.6"/>
<line x1="311.40" y1="589.20" x2="389.50" y2="589.20" stroke="#555" stroke-width="1"/>
<line x1="404.00" y1="589.50" x2="482.00" y2="589.50" stroke="#555" stroke-width="1"/>
<text x="348.30" y="599.88" font-size="8.0" text-anchor="middle" fill="#1e1e1e" font-weight="normal" >NSG</text>
<text x="442.20" y="600.28" font-size="8.0" text-anchor="middle" fill="#1e1e1e" font-weight="normal" >SCF</text>
<path d="M316,495 L316,429.8 L408,429.8 L408,452" fill="none" stroke="#444" stroke-width="0.9"/>
<polygon points="360.40,425.00 361.02,426.55 362.68,426.66 361.40,427.72 361.81,429.34 360.40,428.45 358.99,429.34 359.40,427.72 358.12,426.66 359.78,426.55" fill="#111"/>
<rect x="314.70" y="495.60" width="2.6" height="2.6" fill="none" stroke="#3a3a3a" stroke-width="0.75"/>
<rect x="316.80" y="518.50" width="2.6" height="2.6" fill="none" stroke="#3a3a3a" stroke-width="0.75"/>
<rect x="313.30" y="521.70" width="2.6" height="2.6" fill="none" stroke="#3a3a3a" stroke-width="0.75"/>
<rect x="320.10" y="524.40" width="2.6" height="2.6" fill="none" stroke="#3a3a3a" stroke-width="0.75"/>
<rect x="311.20" y="525.80" width="2.6" height="2.6" fill="none" stroke="#3a3a3a" stroke-width="0.75"/>
<rect x="315.50" y="526.60" width="2.6" height="2.6" fill="none" stroke="#3a3a3a" stroke-width="0.75"/>
<rect x="314.70" y="530.10" width="2.6" height="2.6" fill="none" stroke="#3a3a3a" stroke-width="0.75"/>
<rect x="311.20" y="532.80" width="2.6" height="2.6" fill="none" stroke="#3a3a3a" stroke-width="0.75"/>
<rect x="318.20" y="533.30" width="2.6" height="2.6" fill="none" stroke="#3a3a3a" stroke-width="0.75"/>
<rect x="314.70" y="534.70" width="2.6" height="2.6" fill="none" stroke="#3a3a3a" stroke-width="0.75"/>
<rect x="311.20" y="540.10" width="2.6" height="2.6" fill="none" stroke="#3a3a3a" stroke-width="0.75"/>
<rect x="315.50" y="541.40" width="2.6" height="2.6" fill="none" stroke="#3a3a3a" stroke-width="0.75"/>
<rect x="311.20" y="544.10" width="2.6" height="2.6" fill="none" stroke="#3a3a3a" stroke-width="0.75"/>
<rect x="315.50" y="548.10" width="2.6" height="2.6" fill="none" stroke="#3a3a3a" stroke-width="0.75"/>
<rect x="314.70" y="555.40" width="2.6" height="2.6" fill="none" stroke="#3a3a3a" stroke-width="0.75"/>
<line x1="309.80" y1="533.30" x2="323.20" y2="533.30" stroke="#444" stroke-width="1"/>
<rect x="337.60" y="504.50" width="2.6" height="2.6" fill="none" stroke="#3a3a3a" stroke-width="0.75"/>
<rect x="334.30" y="538.20" width="2.6" height="2.6" fill="none" stroke="#3a3a3a" stroke-width="0.75"/>
<rect x="338.90" y="538.70" width="2.6" height="2.6" fill="none" stroke="#3a3a3a" stroke-width="0.75"/>
<rect x="334.30" y="544.60" width="2.6" height="2.6" fill="none" stroke="#3a3a3a" stroke-width="0.75"/>
<rect x="341.60" y="544.60" width="2.6" height="2.6" fill="none" stroke="#3a3a3a" stroke-width="0.75"/>
<rect x="338.40" y="550.00" width="2.6" height="2.6" fill="none" stroke="#3a3a3a" stroke-width="0.75"/>
<rect x="335.40" y="562.40" width="2.6" height="2.6" fill="none" stroke="#3a3a3a" stroke-width="0.75"/>
<rect x="339.70" y="565.10" width="2.6" height="2.6" fill="none" stroke="#3a3a3a" stroke-width="0.75"/>
<rect x="333.50" y="568.90" width="2.6" height="2.6" fill="none" stroke="#3a3a3a" stroke-width="0.75"/>
<rect x="337.00" y="570.10" width="2.6" height="2.6" fill="none" stroke="#3a3a3a" stroke-width="0.75"/>
<rect x="340.80" y="569.70" width="2.6" height="2.6" fill="none" stroke="#3a3a3a" stroke-width="0.75"/>
<rect x="343.50" y="569.70" width="2.6" height="2.6" fill="none" stroke="#3a3a3a" stroke-width="0.75"/>
<line x1="332.00" y1="556.20" x2="346.00" y2="556.20" stroke="#444" stroke-width="1"/>
<rect x="358.60" y="462.70" width="2.6" height="2.6" fill="none" stroke="#3a3a3a" stroke-width="0.75"/>
<rect x="363.10" y="464.10" width="2.6" height="2.6" fill="none" stroke="#3a3a3a" stroke-width="0.75"/>
<rect x="358.60" y="468.90" width="2.6" height="2.6" fill="none" stroke="#3a3a3a" stroke-width="0.75"/>
<rect x="363.10" y="468.10" width="2.6" height="2.6" fill="none" stroke="#3a3a3a" stroke-width="0.75"/>
<rect x="361.80" y="474.90" width="2.6" height="2.6" fill="none" stroke="#3a3a3a" stroke-width="0.75"/>
<rect x="357.70" y="475.40" width="2.6" height="2.6" fill="none" stroke="#3a3a3a" stroke-width="0.75"/>
<rect x="359.10" y="478.90" width="2.6" height="2.6" fill="none" stroke="#3a3a3a" stroke-width="0.75"/>
<rect x="355.90" y="485.10" width="2.6" height="2.6" fill="none" stroke="#3a3a3a" stroke-width="0.75"/>
<rect x="360.40" y="488.90" width="2.6" height="2.6" fill="none" stroke="#3a3a3a" stroke-width="0.75"/>
<rect x="356.90" y="495.60" width="2.6" height="2.6" fill="none" stroke="#3a3a3a" stroke-width="0.75"/>
<rect x="361.20" y="494.30" width="2.6" height="2.6" fill="none" stroke="#3a3a3a" stroke-width="0.75"/>
<rect x="363.10" y="494.30" width="2.6" height="2.6" fill="none" stroke="#3a3a3a" stroke-width="0.75"/>
<rect x="358.60" y="506.40" width="2.6" height="2.6" fill="none" stroke="#3a3a3a" stroke-width="0.75"/>
<rect x="363.10" y="508.50" width="2.6" height="2.6" fill="none" stroke="#3a3a3a" stroke-width="0.75"/>
<rect x="358.60" y="534.70" width="2.6" height="2.6" fill="none" stroke="#3a3a3a" stroke-width="0.75"/>
<rect x="363.10" y="532.50" width="2.6" height="2.6" fill="none" stroke="#3a3a3a" stroke-width="0.75"/>
<line x1="355.00" y1="492.60" x2="368.00" y2="492.60" stroke="#444" stroke-width="1"/>
<line x1="361.70" y1="486.00" x2="361.70" y2="499.00" stroke="#999" stroke-width="0.6"/>
<path d="M378.5,571.5 C382,569.3 387,569.3 391,571" fill="none" stroke="#1a1a1a" stroke-width="2.6"/>
<rect x="378.70" y="569.70" width="2.6" height="2.6" fill="none" stroke="#333" stroke-width="0.75"/>
<rect x="381.70" y="569.20" width="2.6" height="2.6" fill="none" stroke="#333" stroke-width="0.75"/>
<rect x="384.70" y="569.50" width="2.6" height="2.6" fill="none" stroke="#333" stroke-width="0.75"/>
<rect x="387.70" y="569.30" width="2.6" height="2.6" fill="none" stroke="#333" stroke-width="0.75"/>
<rect x="389.70" y="568.20" width="2.6" height="2.6" fill="none" stroke="#333" stroke-width="0.75"/>
<circle cx="403.90" cy="457.80" r="1.3" fill="none" stroke="#3a3a3a" stroke-width="0.7"/>
<circle cx="408.10" cy="459.40" r="1.3" fill="none" stroke="#3a3a3a" stroke-width="0.7"/>
<circle cx="411.90" cy="457.20" r="1.3" fill="none" stroke="#3a3a3a" stroke-width="0.7"/>
<circle cx="405.50" cy="469.00" r="1.3" fill="none" stroke="#3a3a3a" stroke-width="0.7"/>
<circle cx="409.70" cy="466.80" r="1.3" fill="none" stroke="#3a3a3a" stroke-width="0.7"/>
<circle cx="407.10" cy="474.70" r="1.3" fill="none" stroke="#3a3a3a" stroke-width="0.7"/>
<circle cx="407.70" cy="480.80" r="1.3" fill="none" stroke="#3a3a3a" stroke-width="0.7"/>
<circle cx="408.10" cy="491.30" r="1.3" fill="none" stroke="#3a3a3a" stroke-width="0.7"/>
<circle cx="406.10" cy="493.50" r="1.3" fill="none" stroke="#3a3a3a" stroke-width="0.7"/>
<circle cx="410.30" cy="494.50" r="1.3" fill="none" stroke="#3a3a3a" stroke-width="0.7"/>
<circle cx="405.50" cy="502.50" r="1.3" fill="none" stroke="#3a3a3a" stroke-width="0.7"/>
<circle cx="410.30" cy="502.50" r="1.3" fill="none" stroke="#3a3a3a" stroke-width="0.7"/>
<circle cx="408.10" cy="508.90" r="1.3" fill="none" stroke="#3a3a3a" stroke-width="0.7"/>
<circle cx="405.50" cy="513.60" r="1.3" fill="none" stroke="#3a3a3a" stroke-width="0.7"/>
<circle cx="410.30" cy="515.20" r="1.3" fill="none" stroke="#3a3a3a" stroke-width="0.7"/>
<circle cx="408.10" cy="520.00" r="1.3" fill="none" stroke="#3a3a3a" stroke-width="0.7"/>
<circle cx="405.50" cy="522.20" r="1.3" fill="none" stroke="#3a3a3a" stroke-width="0.7"/>
<circle cx="410.30" cy="522.20" r="1.3" fill="none" stroke="#3a3a3a" stroke-width="0.7"/>
<circle cx="408.10" cy="531.80" r="1.3" fill="none" stroke="#3a3a3a" stroke-width="0.7"/>
<circle cx="405.50" cy="548.70" r="1.3" fill="none" stroke="#3a3a3a" stroke-width="0.7"/>
<circle cx="410.30" cy="544.60" r="1.3" fill="none" stroke="#3a3a3a" stroke-width="0.7"/>
<line x1="400.70" y1="498.30" x2="415.00" y2="498.30" stroke="#444" stroke-width="1"/>
<circle cx="430.40" cy="530.50" r="1.3" fill="none" stroke="#3a3a3a" stroke-width="0.7"/>
<circle cx="430.40" cy="536.00" r="1.3" fill="none" stroke="#3a3a3a" stroke-width="0.7"/>
<circle cx="430.40" cy="542.30" r="1.3" fill="none" stroke="#3a3a3a" stroke-width="0.7"/>
<circle cx="430.40" cy="550.30" r="1.3" fill="none" stroke="#3a3a3a" stroke-width="0.7"/>
<circle cx="428.50" cy="555.10" r="1.3" fill="none" stroke="#3a3a3a" stroke-width="0.7"/>
<circle cx="432.60" cy="555.10" r="1.3" fill="none" stroke="#3a3a3a" stroke-width="0.7"/>
<circle cx="427.20" cy="563.10" r="1.3" fill="none" stroke="#3a3a3a" stroke-width="0.7"/>
<circle cx="431.70" cy="562.40" r="1.3" fill="none" stroke="#3a3a3a" stroke-width="0.7"/>
<circle cx="426.20" cy="566.20" r="1.3" fill="none" stroke="#3a3a3a" stroke-width="0.7"/>
<circle cx="431.00" cy="566.90" r="1.3" fill="none" stroke="#3a3a3a" stroke-width="0.7"/>
<circle cx="434.20" cy="566.20" r="1.3" fill="none" stroke="#3a3a3a" stroke-width="0.7"/>
<circle cx="427.20" cy="569.40" r="1.3" fill="none" stroke="#3a3a3a" stroke-width="0.7"/>
<circle cx="431.00" cy="570.10" r="1.3" fill="none" stroke="#3a3a3a" stroke-width="0.7"/>
<circle cx="434.80" cy="569.40" r="1.3" fill="none" stroke="#3a3a3a" stroke-width="0.7"/>
<circle cx="428.50" cy="571.60" r="1.3" fill="none" stroke="#3a3a3a" stroke-width="0.7"/>
<circle cx="432.60" cy="571.60" r="1.3" fill="none" stroke="#3a3a3a" stroke-width="0.7"/>
<line x1="424.00" y1="562.40" x2="437.00" y2="562.40" stroke="#444" stroke-width="1"/>
<line x1="430.40" y1="558.50" x2="430.40" y2="562.40" stroke="#888" stroke-width="0.6"/>
<circle cx="451.70" cy="494.50" r="1.3" fill="none" stroke="#3a3a3a" stroke-width="0.7"/>
<circle cx="455.60" cy="491.30" r="1.3" fill="none" stroke="#3a3a3a" stroke-width="0.7"/>
<circle cx="448.60" cy="502.50" r="1.3" fill="none" stroke="#3a3a3a" stroke-width="0.7"/>
<circle cx="453.30" cy="502.50" r="1.3" fill="none" stroke="#3a3a3a" stroke-width="0.7"/>
<circle cx="458.10" cy="502.50" r="1.3" fill="none" stroke="#3a3a3a" stroke-width="0.7"/>
<circle cx="448.60" cy="507.30" r="1.3" fill="none" stroke="#3a3a3a" stroke-width="0.7"/>
<circle cx="453.30" cy="508.90" r="1.3" fill="none" stroke="#3a3a3a" stroke-width="0.7"/>
<circle cx="459.10" cy="507.30" r="1.3" fill="none" stroke="#3a3a3a" stroke-width="0.7"/>
<circle cx="447.90" cy="512.00" r="1.3" fill="none" stroke="#3a3a3a" stroke-width="0.7"/>
<circle cx="451.70" cy="513.60" r="1.3" fill="none" stroke="#3a3a3a" stroke-width="0.7"/>
<circle cx="456.50" cy="512.00" r="1.3" fill="none" stroke="#3a3a3a" stroke-width="0.7"/>
<circle cx="448.60" cy="518.40" r="1.3" fill="none" stroke="#3a3a3a" stroke-width="0.7"/>
<circle cx="453.30" cy="518.40" r="1.3" fill="none" stroke="#3a3a3a" stroke-width="0.7"/>
<circle cx="458.10" cy="518.40" r="1.3" fill="none" stroke="#3a3a3a" stroke-width="0.7"/>
<circle cx="452.70" cy="530.50" r="1.3" fill="none" stroke="#3a3a3a" stroke-width="0.7"/>
<circle cx="455.90" cy="531.20" r="1.3" fill="none" stroke="#3a3a3a" stroke-width="0.7"/>
<circle cx="452.70" cy="542.30" r="1.3" fill="none" stroke="#3a3a3a" stroke-width="0.7"/>
<circle cx="450.80" cy="544.60" r="1.3" fill="none" stroke="#3a3a3a" stroke-width="0.7"/>
<circle cx="454.90" cy="547.80" r="1.3" fill="none" stroke="#3a3a3a" stroke-width="0.7"/>
<circle cx="453.30" cy="552.90" r="1.3" fill="none" stroke="#3a3a3a" stroke-width="0.7"/>
<line x1="446.00" y1="517.80" x2="461.00" y2="517.80" stroke="#444" stroke-width="1"/>
<path d="M470.5,568.5 C474,571.5 480,571.5 483.5,568.5" fill="none" stroke="#111" stroke-width="2.6"/>
<circle cx="471.50" cy="569.00" r="1.4" fill="none" stroke="#222" stroke-width="0.7"/>
<circle cx="474.50" cy="570.00" r="1.4" fill="none" stroke="#222" stroke-width="0.7"/>
<circle cx="477.50" cy="570.20" r="1.4" fill="none" stroke="#222" stroke-width="0.7"/>
<circle cx="480.50" cy="569.80" r="1.4" fill="none" stroke="#222" stroke-width="0.7"/>
<circle cx="483.00" cy="568.80" r="1.4" fill="none" stroke="#222" stroke-width="0.7"/>
<circle cx="476.30" cy="564.70" r="1.3" fill="none" stroke="#3a3a3a" stroke-width="0.7"/>
</svg>
</body></html>
